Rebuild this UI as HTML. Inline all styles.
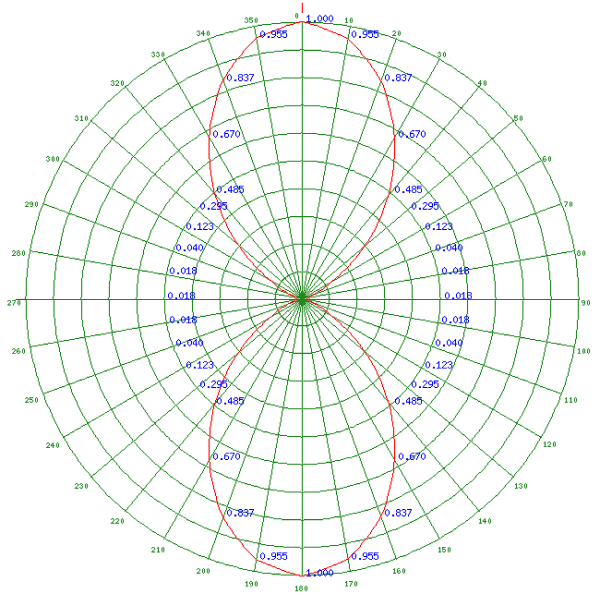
<!DOCTYPE html>
<html><head><meta charset="utf-8"><title>Polar plot</title>
<style>html,body{margin:0;padding:0;background:#fff;}body{width:600px;height:606px;overflow:hidden;font-family:"Liberation Sans",sans-serif;}svg{display:block}</style>
</head><body>
<svg width="600" height="606" viewBox="0 0 650 656" preserveAspectRatio="none">
<defs>
<path id="t0" d="M2 1h1v1h-1zM1 2h1v1h-1zM3 2h1v1h-1zM1 3h1v1h-1zM3 3h1v1h-1zM1 4h1v1h-1zM3 4h1v1h-1zM1 5h1v1h-1zM3 5h1v1h-1zM2 6h1v1h-1z"/>
<path id="t1" d="M2 1h1v1h-1zM1 2h2v1h-2zM2 3h1v1h-1zM2 4h1v1h-1zM2 5h1v1h-1zM1 6h3v1h-3z"/>
<path id="t2" d="M1 1h2v1h-2zM0 2h1v1h-1zM3 2h1v1h-1zM3 3h1v1h-1zM2 4h1v1h-1zM1 5h1v1h-1zM0 6h4v1h-4z"/>
<path id="t3" d="M1 1h2v1h-2zM0 2h1v1h-1zM3 2h1v1h-1zM2 3h1v1h-1zM3 4h1v1h-1zM0 5h1v1h-1zM3 5h1v1h-1zM1 6h2v1h-2z"/>
<path id="t4" d="M2 1h1v1h-1zM1 2h2v1h-2zM0 3h1v1h-1zM2 3h1v1h-1zM0 4h4v1h-4zM2 5h1v1h-1zM2 6h1v1h-1z"/>
<path id="t5" d="M0 1h4v1h-4zM0 2h1v1h-1zM0 3h3v1h-3zM3 4h1v1h-1zM0 5h1v1h-1zM3 5h1v1h-1zM1 6h2v1h-2z"/>
<path id="t6" d="M1 1h2v1h-2zM0 2h1v1h-1zM0 3h1v1h-1zM2 3h1v1h-1zM0 4h2v1h-2zM3 4h1v1h-1zM0 5h1v1h-1zM3 5h1v1h-1zM1 6h2v1h-2z"/>
<path id="t7" d="M0 1h4v1h-4zM3 2h1v1h-1zM2 3h1v1h-1zM2 4h1v1h-1zM1 5h1v1h-1zM1 6h1v1h-1z"/>
<path id="t8" d="M1 1h2v1h-2zM0 2h1v1h-1zM3 2h1v1h-1zM1 3h2v1h-2zM0 4h1v1h-1zM3 4h1v1h-1zM0 5h1v1h-1zM3 5h1v1h-1zM1 6h2v1h-2z"/>
<path id="t9" d="M1 1h2v1h-2zM0 2h1v1h-1zM3 2h1v1h-1zM0 3h1v1h-1zM2 3h2v1h-2zM1 4h1v1h-1zM3 4h1v1h-1zM3 5h1v1h-1zM1 6h2v1h-2z"/>
<path id="s0" d="M2 3h1v1h-1zM1 4h1v1h-1zM3 4h1v1h-1zM0 5h1v1h-1zM4 5h1v1h-1zM0 6h1v1h-1zM4 6h1v1h-1zM0 7h1v1h-1zM4 7h1v1h-1zM0 8h1v1h-1zM4 8h1v1h-1zM1 9h1v1h-1zM3 9h1v1h-1zM2 10h1v1h-1z"/>
<path id="s1" d="M2 3h1v1h-1zM1 4h2v1h-2zM0 5h1v1h-1zM2 5h1v1h-1zM2 6h1v1h-1zM2 7h1v1h-1zM2 8h1v1h-1zM2 9h1v1h-1zM0 10h5v1h-5z"/>
<path id="s2" d="M1 3h3v1h-3zM0 4h1v1h-1zM4 4h1v1h-1zM4 5h1v1h-1zM3 6h1v1h-1zM2 7h1v1h-1zM1 8h1v1h-1zM0 9h1v1h-1zM0 10h5v1h-5z"/>
<path id="s3" d="M1 3h3v1h-3zM0 4h1v1h-1zM4 4h1v1h-1zM4 5h1v1h-1zM2 6h2v1h-2zM4 7h1v1h-1zM4 8h1v1h-1zM0 9h1v1h-1zM4 9h1v1h-1zM1 10h3v1h-3z"/>
<path id="s4" d="M3 3h1v1h-1zM2 4h2v1h-2zM1 5h1v1h-1zM3 5h1v1h-1zM0 6h1v1h-1zM3 6h1v1h-1zM0 7h1v1h-1zM3 7h1v1h-1zM0 8h5v1h-5zM3 9h1v1h-1zM3 10h1v1h-1z"/>
<path id="s5" d="M0 3h5v1h-5zM0 4h1v1h-1zM0 5h4v1h-4zM0 6h1v1h-1zM4 6h1v1h-1zM4 7h1v1h-1zM4 8h1v1h-1zM0 9h1v1h-1zM4 9h1v1h-1zM1 10h3v1h-3z"/>
<path id="s6" d="M2 3h3v1h-3zM1 4h1v1h-1zM0 5h1v1h-1zM0 6h4v1h-4zM0 7h1v1h-1zM4 7h1v1h-1zM0 8h1v1h-1zM4 8h1v1h-1zM0 9h1v1h-1zM4 9h1v1h-1zM1 10h3v1h-3z"/>
<path id="s7" d="M0 3h5v1h-5zM4 4h1v1h-1zM3 5h1v1h-1zM3 6h1v1h-1zM2 7h1v1h-1zM2 8h1v1h-1zM1 9h1v1h-1zM1 10h1v1h-1z"/>
<path id="s8" d="M1 3h3v1h-3zM0 4h1v1h-1zM4 4h1v1h-1zM0 5h1v1h-1zM4 5h1v1h-1zM1 6h3v1h-3zM0 7h1v1h-1zM4 7h1v1h-1zM0 8h1v1h-1zM4 8h1v1h-1zM0 9h1v1h-1zM4 9h1v1h-1zM1 10h3v1h-3z"/>
<path id="s9" d="M1 3h3v1h-3zM0 4h1v1h-1zM4 4h1v1h-1zM0 5h1v1h-1zM4 5h1v1h-1zM0 6h1v1h-1zM4 6h1v1h-1zM1 7h4v1h-4zM4 8h1v1h-1zM3 9h1v1h-1zM0 10h3v1h-3z"/>
<path id="sd" d="M2 9h2v1h-2zM2 10h2v1h-2z"/>
</defs>
<rect width="650" height="656" fill="#fff"/>
<g fill="none" stroke="#1f8a1f" stroke-width="1.15">
<path transform="translate(0 .5)" d="M304 24h16M334 24h16M294 25h10M350 25h11M284 26h10M361 26h10M279 27h5M371 27h5M273 28h6M376 28h5M268 29h5M381 29h6M263 30h5M387 30h5M259 31h4M392 31h4M257 32h2M396 32h2M253 33h4M398 33h4M248 34h5M402 34h5M244 35h4M407 35h4M242 36h2M411 36h2M238 37h4M413 37h4M234 38h4M417 38h4M232 39h2M421 39h2M229 40h3M423 40h3M227 41h2M426 41h2M224 42h3M428 42h3M222 43h2M431 43h2M218 44h4M433 44h4M215 45h3M437 45h3M213 46h2M440 46h2M211 47h2M442 47h2M209 48h2M207 49h2M445 49h2M205 50h2M447 50h3M203 51h2M450 51h2M200 52h3M452 52h3M198 53h2M325 53h4M455 53h2M195 54h3M307 54h18M329 54h19M457 54h2M193 55h2M297 55h10M348 55h9M459 55h2M288 56h9M357 56h10M461 56h2M190 57h2M283 57h5M367 57h4M463 57h2M188 58h2M279 58h4M371 58h5M465 58h2M186 59h2M274 59h5M376 59h4M467 59h2M184 60h2M270 60h4M380 60h5M469 60h2M182 61h2M265 61h5M385 61h5M471 61h2M180 62h2M260 62h5M390 62h4M473 62h2M177 63h3M258 63h2M394 63h2M397 63h2M475 63h2M177 64h2M251 64h5M399 64h4M175 65h2M248 65h3M403 65h4M246 66h2M407 66h2M479 66h2M172 67h2M242 67h4M409 67h3M170 68h2M239 68h3M412 68h4M482 68h2M237 69h2M416 69h2M484 69h2M167 70h2M234 70h3M418 70h2M486 70h2M165 71h2M232 71h2M420 71h2M488 71h2M229 72h3M422 72h3M162 73h2M226 73h3M425 73h4M224 74h2M429 74h2M492 74h2M221 75h3M431 75h2M158 76h2M219 76h2M433 76h2M217 77h2M435 77h2M496 77h2M215 78h2M437 78h2M154 79h2M213 79h2M439 79h3M499 79h2M152 80h2M211 80h2M442 80h2M501 80h2M208 81h3M444 81h2M149 82h2M206 82h2M446 82h2M204 83h2M326 83h3M448 83h2M505 83h2M202 84h2M305 84h21M329 84h21M450 84h2M145 85h2M296 85h9M350 85h8M452 85h2M199 86h2M292 86h4M358 86h4M509 86h2M284 87h8M362 87h8M455 87h2M196 88h2M280 88h4M370 88h4M457 88h2M194 89h2M276 89h4M374 89h4M459 89h3M192 90h2M272 90h4M378 90h4M461 90h2M190 91h2M268 91h4M382 91h5M463 91h2M137 92h2M263 92h5M387 92h4M135 93h2M187 93h2M259 93h4M391 93h4M517 93h3M135 94h2M255 94h4M395 94h4M467 94h2M518 94h2M133 95h2M184 95h2M252 95h3M399 95h3M182 96h2M250 96h2M402 96h2M470 96h2M521 96h2M247 97h3M404 97h3M472 97h2M179 98h2M245 98h2M407 98h3M243 99h2M410 99h2M475 99h2M240 100h3M412 100h2M175 101h2M237 101h3M414 101h3M125 102h2M479 102h2M172 103h2M232 103h3M419 103h3M529 103h2M170 104h2M229 104h3M422 104h3M482 104h2M227 105h2M425 105h2M484 105h2M167 106h2M225 106h2M427 106h2M223 107h2M429 107h2M487 107h2M431 108h2M117 109h2M163 109h2M220 109h2M433 109h2M218 110h2M491 110h2M537 110h2M216 111h2M436 111h2M214 112h2M438 112h2M212 113h2M326 113h3M440 113h2M210 114h2M308 114h18M329 114h18M442 114h2M156 115h2M207 115h3M300 115h8M347 115h7M444 115h3M154 116h2M207 116h2M293 116h7M354 116h7M446 116h2M498 116h3M154 117h2M205 117h2M286 117h7M361 117h7M448 117h2M499 117h2M203 118h2M282 118h4M368 118h4M201 119h2M279 119h3M372 119h4M451 119h2M275 120h4M376 120h3M453 120h2M149 121h2M198 121h2M272 121h3M379 121h4M455 121h2M268 122h4M383 122h3M505 122h2M195 123h2M265 123h3M386 123h4M145 124h2M261 124h4M390 124h3M459 124h2M258 125h3M393 125h4M509 125h2M191 126h2M255 126h3M397 126h2M462 126h2M253 127h2M398 127h3M188 128h2M251 128h2M401 128h3M465 128h2M247 129h4M404 129h3M98 130h2M185 130h2M245 130h2M407 130h3M555 130h2M98 131h2M243 131h2M410 131h2M469 131h2M555 131h2M241 132h2M412 132h2M101 133h2M239 133h2M414 133h2M552 133h2M135 134h2M237 134h2M416 134h2M234 135h3M418 135h2M519 135h2M178 136h2M232 136h2M420 136h3M475 136h2M230 137h2M423 137h2M107 138h2M175 138h2M546 138h2M173 139h2M479 139h3M173 140h2M225 140h2M480 140h2M222 141h3M429 141h3M222 142h2M431 142h2M113 143h2M220 143h2M326 143h2M433 143h2M540 143h2M168 144h2M218 144h2M311 144h15M327 144h17M435 144h2M485 144h2M216 145h2M301 145h10M344 145h9M437 145h2M295 146h6M353 146h7M292 147h3M360 147h3M286 148h6M363 148h6M120 149h3M211 149h2M283 149h3M369 149h3M442 149h2M532 149h3M121 150h2M280 150h3M372 150h3M532 150h2M208 151h2M274 151h6M375 151h6M445 151h2M271 152h3M381 152h3M205 153h2M268 153h3M384 153h3M448 153h2M126 154h2M266 154h2M387 154h2M527 154h2M202 155h2M264 155h3M388 155h3M451 155h2M262 156h2M391 156h2M199 157h2M259 157h3M393 157h3M454 157h2M256 158h3M396 158h3M132 159h2M196 159h2M253 159h3M399 159h2M457 159h2M521 159h2M401 160h2M250 161h2M403 161h2M193 162h2M248 162h2M405 162h2M460 162h2M246 163h2M407 163h2M191 164h2M244 164h2M409 164h2M462 164h2M139 165h2M242 165h2M411 165h2M514 165h2M240 166h2M413 166h2M237 167h3M415 167h2M236 168h3M416 168h2M185 169h2M418 169h2M468 169h2M145 170h2M233 170h2M420 170h2M508 170h2M229 173h2M326 173h2M424 173h2M69 174h2M180 174h2M311 174h15M327 174h17M473 174h2M584 174h2M71 175h2M225 175h2M303 175h8M344 175h7M428 175h2M582 175h2M73 176h2M152 176h2M298 176h5M351 176h6M501 176h2M580 176h2M293 177h5M357 177h5M76 178h2M290 178h3M362 178h2M577 178h2M78 179h2M175 179h2M220 179h2M285 179h5M364 179h5M433 179h2M478 179h2M575 179h2M283 180h2M369 180h3M81 181h2M158 181h2M280 181h3M372 181h2M495 181h2M572 181h2M83 182h2M278 182h2M374 182h3M570 182h2M85 183h2M215 183h2M275 183h3M377 183h2M438 183h2M568 183h2M271 184h4M379 184h5M88 185h2M212 185h2M441 185h2M565 185h2M90 186h2M164 186h2M212 186h2M268 186h2M441 186h2M489 186h2M563 186h2M92 187h2M266 187h2M386 187h3M561 187h2M167 188h2M263 188h3M389 188h2M486 188h2M94 189h3M167 189h2M208 189h2M261 189h2M391 189h2M445 189h2M486 189h2M558 189h3M97 190h2M165 190h2M259 190h2M393 190h3M488 190h2M556 190h2M256 191h3M396 191h2M100 192h2M171 192h2M398 192h2M482 192h2M553 192h2M102 193h2M252 193h3M400 193h2M551 193h2M104 194h2M251 194h3M401 194h2M549 194h2M201 195h2M249 195h2M403 195h2M452 195h2M107 196h2M405 196h2M546 196h2M109 197h2M177 197h2M476 197h2M544 197h2M111 198h2M245 198h2M542 198h2M409 199h2M114 200h2M539 200h2M116 201h2M241 201h2M412 201h2M537 201h2M183 202h2M239 202h2M414 202h2M470 202h2M119 203h2M534 203h2M121 204h2M236 204h2M312 204h30M532 204h2M123 205h2M306 205h6M342 205h7M418 205h2M530 205h2M302 206h5M348 206h4M126 207h2M298 207h4M352 207h5M527 207h2M128 208h2M190 208h2M293 208h5M357 208h4M422 208h2M463 208h2M525 208h2M130 209h2M230 209h2M289 209h4M361 209h4M422 209h2M523 209h2M286 210h3M365 210h2M424 210h2M133 211h2M367 211h2M520 211h2M135 212h2M282 212h4M369 212h3M518 212h2M196 213h2M280 213h2M372 213h2M457 213h2M138 214h2M278 214h2M374 214h2M515 214h2M140 215h2M276 215h2M376 215h2M513 215h2M142 216h2M222 216h2M274 216h2M378 216h2M511 216h2M272 217h2M380 217h2M432 217h2M145 218h2M202 218h2M270 218h2M382 218h2M451 218h2M508 218h2M147 219h2M267 219h3M384 219h2M506 219h2M46 220h2M149 220h2M267 220h2M386 220h2M504 220h2M607 220h2M48 221h3M265 221h2M604 221h3M51 222h2M152 222h2M263 222h2M389 222h2M501 222h2M602 222h2M53 223h3M154 223h2M261 223h2M391 223h2M499 223h2M599 223h3M56 224h3M209 224h2M393 224h2M444 224h2M596 224h3M59 225h3M157 225h2M258 225h2M496 225h2M593 225h3M62 226h2M159 226h2M212 226h2M396 226h2M441 226h2M494 226h2M591 226h2M64 227h3M161 227h2M492 227h2M588 227h3M67 228h3M585 228h3M70 229h2M164 229h2M215 229h2M253 229h2M438 229h2M489 229h2M583 229h2M72 230h3M166 230h2M401 230h2M487 230h2M580 230h3M74 231h4M168 231h2M250 231h2M403 231h2M485 231h2M577 231h4M78 232h3M250 232h2M403 232h2M574 232h3M81 233h2M171 233h2M248 233h2M482 233h2M572 233h2M83 234h3M173 234h2M314 234h26M406 234h2M480 234h2M569 234h3M86 235h3M222 235h2M310 235h4M340 235h5M431 235h2M566 235h3M89 236h3M176 236h2M245 236h2M305 236h5M345 236h4M477 236h2M563 236h3M92 237h2M178 237h2M301 237h4M349 237h5M409 237h2M475 237h2M561 237h2M94 238h3M180 238h2M298 238h3M354 238h3M473 238h2M558 238h3M97 239h3M296 239h2M555 239h3M100 240h2M183 240h2M228 240h2M293 240h3M357 240h4M412 240h2M425 240h2M470 240h2M553 240h2M102 241h3M185 241h2M291 241h2M361 241h3M468 241h2M550 241h3M105 242h3M187 242h2M239 242h2M289 242h2M466 242h2M547 242h3M108 243h3M286 243h3M365 243h3M415 243h2M544 243h3M111 244h2M190 244h2M368 244h2M463 244h2M542 244h2M113 245h3M192 245h2M234 245h2M282 245h3M419 245h2M461 245h2M539 245h3M116 246h3M281 246h3M371 246h3M536 246h3M119 247h3M195 247h2M458 247h2M533 247h3M122 248h2M197 248h2M278 248h2M456 248h2M531 248h2M124 249h3M199 249h2M376 249h2M454 249h2M528 249h3M127 250h3M525 250h3M130 251h2M202 251h2M241 251h2M274 251h2M412 251h2M451 251h2M523 251h2M132 252h3M204 252h2M380 252h2M449 252h2M520 252h3M135 253h3M517 253h3M138 254h3M207 254h2M446 254h2M514 254h3M141 255h2M209 255h2M444 255h2M512 255h2M143 256h3M211 256h2M247 256h2M268 256h2M406 256h2M442 256h2M509 256h3M146 257h3M386 257h2M506 257h3M149 258h3M214 258h2M439 258h2M503 258h3M152 259h2M216 259h2M437 259h2M501 259h2M154 260h3M218 260h2M435 260h2M498 260h3M157 261h3M253 261h2M400 261h2M495 261h3M160 262h2M221 262h2M432 262h2M493 262h2M162 263h3M223 263h2M430 263h2M490 263h3M165 264h3M317 264h21M487 264h3M168 265h3M226 265h2M313 265h5M337 265h5M427 265h2M484 265h3M171 266h2M228 266h2M309 266h4M342 266h4M425 266h2M482 266h2M173 267h3M230 267h2M307 267h2M346 267h2M423 267h2M479 267h3M176 268h3M304 268h4M347 268h4M476 268h3M179 269h3M233 269h2M302 269h2M351 269h2M420 269h2M473 269h3M182 270h2M235 270h2M300 270h2M353 270h2M418 270h2M471 270h2M32 271h3M184 271h4M237 271h2M297 271h3M355 271h3M416 271h2M467 271h4M620 271h3M35 272h6M187 272h3M266 272h2M297 272h2M356 272h2M387 272h2M465 272h3M614 272h6M41 273h6M190 273h2M240 273h2M295 273h2M358 273h2M413 273h2M463 273h2M608 273h6M47 274h5M192 274h3M242 274h2M293 274h2M360 274h2M411 274h2M460 274h3M603 274h5M52 275h6M195 275h3M457 275h3M597 275h6M58 276h6M198 276h3M245 276h2M408 276h2M454 276h3M591 276h6M64 277h5M201 277h2M247 277h2M272 277h2M289 277h2M364 277h2M381 277h2M406 277h2M452 277h2M586 277h5M69 278h6M203 278h3M249 278h2M288 278h2M365 278h2M404 278h2M449 278h3M580 278h6M75 279h6M206 279h3M446 279h3M574 279h6M81 280h5M209 280h3M252 280h2M286 280h2M367 280h2M401 280h2M443 280h3M569 280h5M86 281h6M212 281h2M254 281h2M399 281h2M441 281h2M563 281h6M91 282h7M214 282h3M256 282h2M397 282h2M438 282h3M557 282h7M98 283h5M217 283h3M279 283h2M283 283h2M370 283h2M374 283h2M435 283h3M552 283h5M103 284h6M220 284h2M259 284h2M281 284h2M372 284h2M394 284h2M433 284h2M546 284h6M109 285h6M222 285h3M261 285h2M392 285h2M430 285h3M540 285h6M115 286h5M225 286h3M427 286h3M535 286h5M120 287h6M228 287h3M264 287h2M389 287h2M424 287h3M529 287h6M126 288h6M231 288h2M266 288h2M285 288h2M368 288h2M387 288h2M422 288h2M523 288h6M132 289h5M233 289h3M268 289h2M385 289h2M419 289h3M518 289h5M137 290h6M236 290h3M416 290h3M512 290h6M143 291h6M239 291h3M271 291h2M382 291h2M413 291h3M506 291h6M149 292h5M242 292h2M273 292h2M380 292h2M411 292h2M501 292h5M154 293h6M243 293h4M275 293h2M378 293h2M408 293h4M495 293h6M160 294h6M247 294h3M292 294h2M320 294h15M361 294h2M405 294h3M489 294h6M166 295h5M250 295h2M278 295h2M317 295h4M334 295h4M375 295h2M403 295h2M484 295h5M171 296h6M252 296h3M280 296h2M315 296h3M337 296h3M373 296h2M400 296h3M478 296h6M177 297h6M255 297h3M312 297h3M340 297h3M397 297h3M472 297h6M183 298h6M258 298h3M283 298h2M311 298h3M341 298h3M370 298h2M394 298h3M466 298h6M189 299h5M261 299h2M285 299h2M298 299h2M310 299h2M343 299h2M355 299h2M368 299h2M392 299h2M461 299h5M194 300h6M263 300h3M308 300h2M345 300h2M366 300h2M389 300h3M455 300h6M200 301h6M266 301h3M307 301h3M345 301h3M386 301h3M449 301h6M206 302h5M269 302h4M306 302h2M347 302h2M363 302h2M382 302h4M444 302h5M211 303h6M271 303h3M305 303h2M348 303h2M381 303h3M438 303h6M217 304h6M274 304h3M304 304h2M349 304h2M378 304h3M432 304h6M223 305h5M277 305h3M375 305h3M427 305h5M228 306h6M280 306h2M297 306h2M373 306h2M421 306h6M234 307h6M282 307h3M299 307h2M302 307h2M351 307h2M354 307h2M370 307h3M415 307h6M239 308h6M285 308h3M301 308h2M352 308h2M367 308h3M410 308h6M245 309h6M288 309h3M301 309h3M351 309h3M364 309h3M404 309h6M251 310h6M291 310h2M304 310h2M311 310h2M342 310h2M349 310h2M362 310h2M398 310h6M257 311h5M293 311h3M306 311h2M347 311h2M359 311h3M393 311h5M262 312h6M296 312h3M356 312h3M387 312h6M268 313h6M299 313h3M309 313h2M344 313h2M353 313h3M381 313h6M274 314h5M302 314h2M311 314h2M324 314h2M329 314h2M342 314h2M351 314h2M376 314h5M279 315h6M304 315h3M313 315h2M317 315h2M326 315h3M336 315h2M340 315h2M348 315h3M370 315h6M285 316h6M298 316h2M307 316h3M323 316h2M326 316h3M330 316h2M345 316h3M355 316h2M364 316h6M291 317h5M316 317h2M324 317h7M337 317h2M343 317h2M359 317h5M296 318h6M318 318h2M323 318h9M335 318h2M341 318h2M353 318h6M302 319h6M324 319h7M347 319h6M308 320h5M319 320h16M342 320h5M313 321h5M321 321h13M336 321h6M322 322h10M334 322h2M267 323h2M297 323h2M325 323h5M356 323h2M386 323h2M322 324h10M334 324h2M313 325h5M321 325h13M336 325h6M308 326h5M319 326h16M342 326h5M302 327h6M324 327h7M347 327h6M296 328h6M318 328h2M323 328h9M335 328h2M341 328h2M353 328h6M291 329h5M316 329h2M324 329h7M337 329h2M343 329h2M359 329h5M285 330h6M298 330h2M307 330h3M323 330h2M326 330h3M330 330h2M345 330h3M355 330h2M364 330h6M279 331h6M304 331h3M313 331h2M317 331h2M326 331h3M336 331h2M340 331h2M348 331h3M370 331h6M274 332h5M302 332h2M311 332h2M324 332h2M329 332h2M342 332h2M351 332h2M376 332h5M268 333h6M299 333h3M309 333h2M344 333h2M353 333h3M381 333h6M262 334h6M296 334h3M356 334h3M387 334h6M257 335h5M293 335h3M306 335h2M347 335h2M359 335h3M393 335h5M251 336h6M291 336h2M304 336h2M311 336h2M342 336h2M349 336h2M362 336h2M398 336h6M245 337h6M288 337h3M301 337h3M351 337h3M364 337h3M404 337h6M239 338h6M285 338h3M301 338h2M352 338h2M367 338h3M410 338h6M234 339h6M282 339h3M299 339h2M302 339h2M351 339h2M354 339h2M370 339h3M415 339h6M228 340h6M280 340h2M297 340h2M373 340h2M421 340h6M223 341h5M277 341h3M375 341h3M427 341h5M217 342h6M274 342h3M304 342h2M349 342h2M378 342h3M432 342h6M211 343h6M271 343h3M305 343h2M348 343h2M381 343h3M438 343h6M206 344h5M269 344h4M306 344h2M347 344h2M363 344h2M382 344h4M444 344h5M200 345h6M266 345h3M307 345h3M345 345h3M386 345h3M449 345h6M194 346h6M263 346h3M308 346h2M345 346h2M366 346h2M389 346h3M455 346h6M189 347h5M261 347h2M285 347h2M298 347h2M310 347h2M343 347h2M355 347h2M368 347h2M392 347h2M461 347h5M183 348h6M258 348h3M283 348h2M311 348h3M341 348h3M370 348h2M394 348h3M466 348h6M177 349h6M255 349h3M312 349h3M340 349h3M397 349h3M472 349h6M171 350h6M252 350h3M280 350h2M315 350h3M337 350h3M373 350h2M400 350h3M478 350h6M166 351h5M250 351h2M278 351h2M317 351h4M334 351h4M375 351h2M403 351h2M484 351h5M160 352h6M247 352h3M275 352h3M292 352h2M320 352h15M361 352h2M377 352h3M405 352h3M489 352h6M154 353h6M243 353h4M275 353h2M378 353h2M408 353h4M495 353h6M149 354h5M242 354h3M273 354h2M380 354h2M410 354h3M501 354h5M143 355h6M239 355h3M271 355h2M382 355h2M413 355h3M506 355h6M137 356h6M236 356h3M416 356h3M512 356h6M132 357h5M233 357h3M268 357h2M385 357h2M419 357h3M518 357h5M126 358h6M231 358h2M266 358h2M285 358h2M368 358h2M387 358h2M422 358h2M523 358h6M120 359h6M228 359h3M264 359h2M389 359h2M424 359h3M529 359h6M115 360h5M225 360h3M427 360h3M535 360h5M109 361h6M222 361h3M261 361h2M392 361h2M430 361h3M540 361h6M103 362h6M220 362h2M259 362h2M281 362h2M372 362h2M394 362h2M433 362h2M546 362h6M98 363h5M217 363h3M279 363h2M283 363h2M370 363h2M374 363h2M435 363h3M552 363h5M91 364h7M214 364h3M256 364h2M397 364h2M438 364h3M557 364h7M86 365h6M212 365h2M254 365h2M399 365h2M441 365h2M563 365h6M81 366h5M209 366h3M252 366h2M286 366h2M367 366h2M401 366h2M443 366h3M569 366h5M75 367h6M206 367h3M250 367h2M403 367h2M446 367h3M574 367h6M69 368h6M203 368h3M249 368h2M288 368h2M365 368h2M404 368h2M449 368h3M580 368h6M64 369h5M201 369h2M247 369h2M272 369h2M289 369h2M364 369h2M381 369h2M406 369h2M452 369h2M586 369h5M58 370h6M198 370h3M245 370h2M408 370h2M454 370h3M591 370h6M52 371h6M195 371h3M457 371h3M597 371h6M47 372h5M192 372h3M242 372h2M293 372h2M360 372h2M411 372h2M460 372h3M603 372h5M41 373h6M190 373h2M240 373h2M295 373h2M358 373h2M413 373h2M463 373h2M608 373h6M35 374h6M187 374h3M266 374h2M297 374h2M356 374h2M387 374h2M465 374h3M614 374h6M32 375h3M184 375h3M237 375h2M297 375h3M355 375h3M416 375h2M468 375h3M620 375h3M182 376h2M235 376h2M300 376h2M353 376h2M418 376h2M471 376h2M179 377h3M233 377h2M302 377h2M351 377h2M420 377h2M473 377h3M176 378h3M304 378h4M347 378h4M476 378h3M173 379h3M230 379h2M307 379h2M346 379h2M423 379h2M479 379h3M171 380h2M228 380h2M309 380h4M342 380h4M425 380h2M482 380h2M168 381h3M226 381h2M313 381h5M337 381h5M427 381h2M484 381h3M165 382h3M224 382h2M317 382h21M429 382h2M487 382h3M162 383h3M223 383h3M429 383h3M490 383h3M160 384h2M221 384h2M432 384h2M493 384h2M157 385h3M253 385h2M400 385h2M495 385h3M154 386h3M218 386h2M435 386h2M498 386h3M152 387h2M216 387h2M437 387h2M501 387h2M149 388h3M214 388h2M439 388h2M503 388h3M146 389h3M386 389h2M506 389h3M143 390h3M211 390h2M247 390h2M268 390h2M406 390h2M442 390h2M509 390h3M141 391h2M209 391h2M444 391h2M512 391h2M138 392h3M207 392h2M446 392h2M514 392h3M135 393h3M517 393h3M132 394h3M204 394h2M380 394h2M449 394h2M520 394h3M130 395h2M202 395h2M241 395h2M274 395h2M412 395h2M451 395h2M523 395h2M127 396h3M525 396h3M124 397h3M198 397h3M376 397h2M454 397h3M528 397h3M122 398h2M197 398h2M278 398h2M456 398h2M531 398h2M119 399h3M195 399h2M458 399h2M533 399h3M116 400h3M281 400h3M371 400h3M536 400h3M113 401h3M192 401h2M234 401h2M419 401h2M461 401h2M539 401h3M111 402h2M190 402h2M368 402h2M463 402h2M542 402h2M108 403h3M286 403h3M365 403h3M415 403h2M544 403h3M105 404h3M187 404h2M239 404h2M289 404h2M466 404h2M547 404h3M102 405h3M185 405h2M291 405h2M361 405h3M468 405h2M550 405h3M100 406h2M183 406h2M228 406h2M293 406h3M357 406h4M412 406h2M425 406h2M470 406h2M553 406h2M97 407h3M296 407h2M555 407h3M94 408h3M180 408h2M298 408h3M354 408h3M473 408h2M558 408h3M92 409h2M178 409h2M301 409h4M349 409h5M409 409h2M475 409h2M561 409h2M89 410h3M176 410h2M245 410h2M305 410h5M345 410h4M477 410h2M563 410h3M86 411h3M222 411h2M310 411h4M340 411h5M431 411h2M566 411h3M83 412h3M172 412h3M314 412h26M406 412h2M480 412h3M569 412h3M81 413h2M171 413h2M248 413h2M482 413h2M572 413h2M78 414h3M250 414h2M403 414h2M574 414h3M74 415h4M168 415h2M250 415h2M403 415h2M485 415h2M577 415h4M72 416h4M166 416h2M401 416h2M487 416h2M579 416h4M70 417h2M164 417h2M215 417h2M253 417h2M438 417h2M489 417h2M583 417h2M67 418h3M585 418h3M64 419h3M161 419h2M492 419h2M588 419h3M62 420h2M159 420h2M396 420h2M494 420h2M591 420h2M59 421h3M157 421h2M258 421h2M496 421h2M593 421h3M56 422h3M209 422h2M393 422h2M444 422h2M596 422h3M53 423h3M154 423h2M261 423h2M391 423h2M499 423h2M599 423h3M51 424h2M152 424h2M263 424h2M389 424h2M501 424h2M602 424h2M48 425h3M265 425h2M604 425h3M46 426h2M149 426h2M267 426h2M386 426h2M504 426h2M607 426h2M146 427h3M384 427h2M506 427h3M145 428h3M202 428h2M270 428h2M382 428h2M451 428h2M507 428h3M272 429h2M380 429h2M432 429h2M142 430h2M222 430h2M274 430h2M378 430h2M511 430h2M140 431h2M276 431h2M376 431h2M513 431h2M138 432h2M278 432h2M374 432h2M515 432h2M196 433h2M280 433h2M372 433h2M457 433h2M135 434h2M282 434h4M369 434h3M518 434h2M133 435h2M367 435h2M520 435h2M286 436h3M365 436h2M424 436h2M130 437h2M230 437h2M289 437h4M361 437h4M422 437h2M523 437h2M128 438h2M190 438h2M293 438h5M357 438h4M422 438h2M463 438h2M525 438h2M126 439h2M298 439h4M352 439h5M527 439h2M302 440h5M348 440h4M123 441h2M306 441h6M342 441h7M418 441h2M530 441h2M120 442h3M236 442h2M312 442h30M532 442h3M119 443h3M533 443h3M183 444h2M239 444h2M414 444h2M470 444h2M116 445h2M241 445h2M412 445h2M537 445h2M114 446h2M539 446h2M409 447h2M111 448h2M245 448h2M542 448h2M109 449h2M177 449h2M476 449h2M544 449h2M107 450h2M405 450h2M546 450h2M201 451h2M249 451h3M403 451h2M452 451h2M104 452h2M252 452h2M401 452h2M549 452h2M102 453h2M400 453h3M551 453h2M100 454h2M171 454h2M398 454h2M482 454h2M553 454h2M256 455h3M396 455h2M97 456h2M165 456h2M259 456h2M393 456h3M488 456h2M556 456h2M94 457h3M167 457h2M208 457h2M261 457h2M391 457h2M445 457h2M486 457h2M558 457h3M94 458h2M167 458h2M263 458h3M389 458h2M486 458h2M559 458h2M92 459h2M266 459h2M386 459h3M561 459h2M90 460h2M164 460h2M212 460h2M268 460h2M441 460h2M489 460h2M563 460h2M88 461h2M212 461h2M441 461h2M565 461h2M271 462h4M379 462h5M85 463h2M215 463h2M275 463h3M377 463h2M438 463h2M568 463h2M83 464h2M278 464h2M374 464h3M570 464h2M81 465h2M158 465h2M280 465h3M372 465h2M495 465h2M572 465h2M283 466h2M369 466h3M78 467h2M175 467h2M220 467h2M285 467h5M364 467h5M433 467h2M478 467h2M575 467h2M76 468h2M290 468h3M362 468h2M577 468h2M293 469h5M357 469h5M73 470h2M152 470h2M298 470h5M351 470h6M501 470h2M580 470h2M71 471h2M225 471h2M303 471h8M344 471h7M428 471h2M582 471h2M68 472h3M180 472h2M311 472h15M327 472h17M473 472h2M584 472h3M68 473h2M229 473h2M326 473h2M424 473h2M585 473h2M145 476h2M233 476h2M420 476h2M508 476h2M185 477h2M235 477h2M418 477h2M468 477h2M237 478h2M416 478h2M415 479h2M240 480h2M413 480h2M139 481h2M242 481h2M411 481h2M514 481h2M191 482h2M244 482h2M409 482h2M462 482h2M246 483h2M407 483h2M193 484h2M248 484h2M405 484h2M460 484h2M250 485h2M403 485h2M401 486h2M132 487h2M196 487h2M253 487h3M399 487h2M457 487h2M521 487h2M256 488h3M396 488h3M199 489h2M259 489h3M393 489h3M454 489h2M262 490h2M391 490h2M202 491h2M264 491h3M388 491h3M451 491h2M126 492h2M266 492h2M387 492h2M527 492h2M205 493h2M268 493h3M384 493h3M448 493h2M271 494h3M381 494h3M208 495h2M274 495h6M375 495h6M445 495h2M121 496h2M280 496h3M372 496h3M532 496h2M120 497h3M211 497h2M283 497h3M369 497h3M442 497h2M532 497h3M286 498h6M363 498h6M292 499h3M360 499h3M295 500h6M353 500h7M216 501h2M301 501h10M344 501h9M437 501h2M168 502h2M218 502h2M311 502h15M327 502h17M435 502h2M485 502h2M113 503h2M220 503h2M326 503h2M433 503h2M540 503h2M222 504h2M431 504h2M224 505h2M429 505h3M173 506h2M480 506h2M173 507h2M479 507h3M107 508h2M175 508h2M546 508h2M230 509h2M423 509h2M178 510h2M232 510h2M420 510h3M475 510h2M234 511h3M418 511h2M519 511h2M135 512h2M237 512h2M416 512h2M101 513h2M239 513h2M414 513h2M552 513h2M241 514h2M412 514h2M98 515h2M243 515h2M410 515h2M469 515h2M555 515h2M98 516h2M185 516h2M245 516h2M407 516h3M555 516h2M247 517h4M404 517h3M188 518h2M251 518h2M401 518h3M465 518h2M253 519h2M398 519h3M191 520h2M255 520h3M397 520h2M462 520h2M258 521h3M393 521h4M509 521h2M145 522h2M261 522h4M390 522h3M459 522h2M195 523h2M265 523h3M386 523h4M268 524h4M383 524h3M505 524h2M149 525h2M198 525h2M272 525h3M379 525h4M455 525h2M275 526h4M376 526h3M453 526h2M201 527h2M279 527h3M372 527h4M451 527h2M203 528h2M282 528h4M368 528h4M154 529h2M205 529h2M286 529h7M361 529h7M448 529h2M499 529h2M154 530h2M207 530h2M293 530h7M354 530h7M446 530h2M498 530h3M156 531h2M209 531h2M300 531h8M347 531h7M444 531h3M308 532h18M329 532h18M442 532h2M212 533h2M326 533h3M440 533h2M214 534h2M438 534h2M216 535h2M436 535h2M218 536h2M491 536h2M537 536h2M117 537h2M163 537h2M220 537h2M433 537h2M431 538h2M223 539h2M429 539h2M487 539h2M167 540h2M225 540h2M427 540h2M227 541h2M425 541h2M484 541h2M170 542h2M229 542h3M422 542h3M482 542h2M172 543h2M232 543h3M419 543h3M529 543h2M125 544h2M479 544h2M175 545h2M237 545h3M414 545h3M240 546h3M412 546h2M243 547h2M410 547h2M475 547h2M179 548h2M245 548h2M407 548h3M247 549h3M404 549h3M472 549h2M182 550h2M250 550h2M402 550h2M470 550h2M521 550h2M133 551h2M184 551h2M252 551h3M399 551h3M135 552h2M255 552h4M395 552h4M467 552h2M518 552h2M135 553h2M187 553h2M259 553h4M391 553h4M517 553h3M137 554h2M263 554h5M387 554h4M190 555h2M268 555h4M382 555h5M463 555h2M192 556h2M272 556h4M378 556h4M461 556h2M194 557h2M276 557h4M374 557h4M459 557h3M196 558h2M280 558h4M370 558h4M457 558h2M284 559h8M362 559h8M455 559h2M199 560h2M292 560h4M358 560h4M509 560h2M145 561h2M296 561h9M350 561h8M452 561h2M202 562h2M305 562h21M329 562h21M450 562h2M204 563h2M326 563h3M448 563h2M505 563h2M149 564h2M206 564h2M446 564h2M208 565h3M444 565h2M152 566h2M211 566h2M442 566h2M501 566h2M154 567h2M213 567h2M439 567h3M499 567h2M215 568h2M437 568h2M217 569h2M435 569h2M496 569h2M158 570h2M219 570h2M433 570h2M221 571h3M431 571h2M224 572h2M429 572h2M492 572h2M162 573h2M226 573h3M425 573h4M229 574h3M422 574h3M165 575h2M232 575h2M420 575h2M488 575h2M167 576h2M234 576h3M418 576h2M486 576h2M237 577h2M416 577h2M484 577h2M170 578h2M239 578h3M412 578h4M482 578h2M172 579h2M242 579h4M409 579h3M174 580h2M246 580h2M407 580h2M479 580h2M176 581h3M248 581h3M403 581h4M251 582h5M399 582h4M258 583h2M394 583h2M397 583h2M475 583h2M180 584h2M260 584h5M390 584h4M473 584h2M182 585h2M265 585h5M385 585h5M471 585h2M184 586h2M270 586h4M380 586h5M469 586h2M186 587h2M274 587h5M376 587h4M467 587h2M188 588h2M279 588h4M371 588h5M465 588h2M190 589h2M283 589h5M367 589h4M463 589h2M288 590h9M357 590h10M461 590h2M193 591h2M297 591h10M348 591h9M459 591h2M195 592h3M307 592h18M329 592h19M457 592h2M198 593h2M325 593h4M455 593h2M200 594h3M452 594h3M203 595h2M450 595h2M205 596h2M447 596h3M207 597h2M445 597h2M209 598h2M211 599h2M442 599h2M213 600h2M440 600h2M215 601h3M437 601h3M218 602h4M433 602h4M222 603h2M431 603h2M224 604h3M428 604h3M227 605h2M426 605h2M229 606h3M423 606h3M232 607h2M421 607h2M234 608h4M417 608h4M238 609h4M413 609h4M242 610h2M411 610h2M244 611h4M407 611h4M248 612h5M402 612h5M253 613h4M398 613h4M257 614h2M396 614h2M259 615h4M392 615h4M263 616h5M387 616h5M268 617h5M381 617h6M273 618h6M376 618h5M279 619h5M371 619h5M284 620h10M361 620h10M294 621h10M350 621h11M304 622h16M334 622h16"/>
<path transform="translate(.5 0)" d="M27 321v4M28 300v21M28 325v21M29 290v10M29 346v11M30 280v10M30 357v10M31 275v5M31 367v5M32 269v2M32 272v3M32 372v3M32 376v1M33 264v5M33 377v6M34 259v5M34 383v5M35 255v4M35 388v4M36 253v2M36 392v2M37 249v4M37 394v4M38 244v5M38 398v5M39 240v4M39 403v4M40 238v2M40 407v2M41 234v4M41 409v4M42 230v4M42 413v4M43 228v2M43 417v2M44 225v3M44 419v3M45 223v2M45 422v2M46 221v2M46 424v2M47 218v2M47 427v2M48 214v4M48 429v4M49 211v3M49 433v3M50 209v2M50 436v2M51 207v2M51 438v2M52 205v2M52 440v1M53 203v2M53 441v2M54 201v2M54 443v3M55 199v2M55 446v2M56 196v3M56 448v3M57 194v2M57 321v4M57 451v2M58 191v3M58 303v18M58 325v19M58 453v2M59 189v2M59 293v10M59 344v9M59 455v2M60 188v1M60 284v9M60 353v10M60 457v2M61 186v2M61 279v5M61 363v4M61 459v2M62 184v2M62 275v1M62 277v2M62 367v3M62 371v1M62 461v2M63 182v2M63 270v5M63 372v4M63 463v2M64 180v2M64 266v4M64 376v5M64 465v2M65 178v2M65 261v5M65 381v5M65 467v2M66 176v2M66 256v5M66 386v4M66 469v1M67 174v2M67 252v4M67 390v5M67 470v2M68 173v1M68 247v5M68 395v4M69 171v2M69 244v3M69 399v4M69 474v1M70 170v1M70 242v2M70 403v2M70 475v2M71 168v2M71 238v4M71 405v3M71 477v1M72 166v2M72 235v3M72 408v4M72 478v2M73 165v1M73 233v2M73 412v2M73 480v2M74 163v2M74 232v1M74 414v1M74 482v2M75 161v2M75 177v1M75 228v2M75 417v1M75 469v1M75 484v2M76 160v1M76 225v3M76 418v3M76 486v1M77 158v2M77 222v3M77 421v4M77 487v1M78 157v1M78 220v2M78 425v2M78 488v2M79 156v1M79 217v3M79 427v2M79 490v1M80 154v2M80 180v1M80 215v2M80 429v2M80 466v1M80 491v1M81 153v1M81 213v2M81 431v2M81 492v2M82 152v1M82 211v2M82 433v2M82 494v1M83 150v2M83 209v2M83 435v3M83 495v2M84 148v2M84 207v2M84 438v2M84 497v2M85 147v1M85 204v3M85 440v2M85 499v1M86 145v2M86 202v2M86 442v2M86 500v1M87 144v1M87 184v1M87 200v2M87 322v3M87 444v2M87 462v1M87 501v2M88 143v1M88 198v2M88 301v21M88 325v21M88 446v2M88 503v1M89 141v2M89 197v1M89 292v9M89 346v8M89 448v2M89 504v1M90 140v1M90 195v2M90 288v4M90 354v4M90 450v1M90 505v2M91 139v1M91 194v1M91 280v1M91 283v5M91 358v6M91 451v2M91 507v1M92 138v1M92 192v2M92 276v4M92 366v4M92 453v1M92 508v1M93 137v1M93 190v2M93 272v4M93 370v4M93 454v2M93 509v1M94 136v1M94 188v1M94 268v4M94 374v4M94 456v1M94 510v1M95 135v1M95 186v2M95 264v4M95 378v5M95 459v1M95 511v1M96 133v2M96 185v1M96 259v5M96 383v4M96 460v2M96 512v1M97 132v1M97 183v2M97 255v4M97 387v4M97 462v1M97 513v2M98 182v1M98 251v4M98 391v4M98 463v2M99 129v1M99 180v2M99 191v1M99 248v3M99 395v3M99 455v1M99 465v1M100 128v1M100 132v1M100 178v2M100 246v2M100 398v2M100 466v2M100 514v1M100 517v2M101 127v1M101 177v1M101 243v3M101 400v3M101 468v2M101 519v1M102 126v1M102 175v2M102 242v1M102 403v2M102 470v1M102 520v1M103 125v1M103 134v1M103 174v1M103 239v2M103 406v2M103 471v2M103 512v1M103 521v1M104 124v1M104 135v1M104 173v1M104 236v3M104 408v2M104 473v1M104 511v1M104 522v1M105 123v1M105 136v1M105 171v2M105 233v3M105 410v3M105 474v1M105 510v1M105 523v1M106 121v2M106 137v1M106 170v1M106 195v1M106 231v2M106 413v2M106 451v1M106 475v2M106 509v1M106 524v1M107 120v1M107 168v2M107 228v3M107 415v3M107 477v1M107 525v2M108 119v1M108 166v2M108 225v3M108 418v3M108 478v2M108 527v1M109 118v1M109 139v1M109 165v1M109 223v2M109 421v2M109 480v2M109 507v1M109 528v1M110 117v1M110 140v1M110 163v2M110 221v2M110 423v2M110 482v1M110 506v1M110 529v1M111 116v1M111 141v1M111 162v1M111 219v2M111 425v2M111 483v2M111 505v1M111 530v1M112 115v1M112 142v1M112 161v1M112 218v1M112 427v2M112 485v1M112 504v1M112 531v1M113 113v2M113 159v2M113 199v1M113 216v2M113 429v2M113 447v1M113 486v1M113 532v1M114 112v1M114 158v1M114 214v2M114 431v1M114 487v2M114 533v2M115 111v1M115 144v1M115 157v1M115 212v2M115 432v2M115 489v1M115 502v1M115 535v1M116 110v1M116 145v1M116 156v1M116 210v2M116 434v2M116 490v1M116 501v1M116 536v1M117 146v1M117 155v1M117 208v2M117 322v3M117 436v2M117 491v1M117 500v1M118 147v1M118 154v1M118 202v1M118 206v2M118 304v18M118 325v18M118 438v2M118 444v1M118 492v1M118 499v1M119 108v1M119 148v1M119 152v2M119 204v2M119 296v8M119 343v7M119 440v2M119 493v1M119 498v1M119 538v1M120 107v1M120 151v1M120 289v7M120 350v7M120 494v2M120 539v1M121 106v1M121 201v2M121 282v5M121 288v1M121 357v2M121 360v4M121 444v1M121 540v1M122 105v1M122 199v2M122 278v4M122 364v4M122 445v2M122 541v1M123 104v1M123 148v1M123 151v1M123 197v2M123 275v3M123 368v4M123 447v2M123 495v1M123 498v1M123 542v1M124 103v1M124 147v1M124 152v1M124 196v1M124 271v4M124 372v3M124 449v2M124 494v1M124 499v1M124 543v1M125 145v2M125 153v1M125 194v2M125 206v1M125 268v3M125 375v4M125 440v1M125 451v2M125 493v1M125 500v1M126 144v1M126 193v1M126 264v4M126 379v3M126 453v1M126 501v2M127 101v1M127 143v1M127 191v2M127 261v3M127 382v4M127 454v1M127 503v1M127 545v1M128 100v1M128 141v2M128 155v1M128 190v1M128 257v4M128 386v3M128 455v2M128 491v1M128 504v1M128 546v1M129 99v1M129 140v1M129 156v1M129 189v1M129 254v3M129 389v4M129 457v1M129 490v1M129 505v2M129 547v1M130 98v1M130 139v1M130 157v1M130 187v2M130 252v2M130 393v2M130 458v2M130 489v1M130 507v1M130 548v1M131 97v1M131 138v1M131 158v1M131 186v1M131 249v2M131 396v1M131 460v1M131 488v1M131 508v1M131 549v1M132 96v1M132 137v1M132 184v2M132 210v1M132 247v2M132 397v3M132 436v1M132 461v2M132 509v1M132 550v1M133 136v1M133 183v1M133 243v4M133 400v3M133 463v1M133 510v1M134 135v1M134 160v1M134 181v2M134 241v2M134 403v3M134 464v1M134 486v1M134 511v1M135 161v1M135 180v1M135 239v2M135 406v2M135 465v2M135 485v1M136 162v1M136 179v1M136 237v2M136 408v2M136 467v1M136 484v1M137 95v1M137 133v1M137 163v1M137 178v1M137 213v1M137 235v2M137 410v2M137 433v1M137 468v1M137 483v1M137 513v1M137 551v1M138 96v2M138 131v2M138 164v1M138 177v1M138 233v2M138 412v2M138 469v1M138 482v1M138 514v1M138 549v2M139 91v1M139 98v1M139 130v1M139 176v1M139 230v3M139 414v2M139 470v1M139 515v2M139 548v1M139 555v1M140 90v1M140 99v1M140 129v1M140 174v2M140 228v2M140 416v3M140 471v2M140 517v1M140 547v1M140 556v1M141 89v1M141 100v1M141 128v1M141 166v1M141 173v1M141 226v2M141 419v2M141 473v1M141 480v1M141 518v1M141 546v1M141 557v1M142 88v1M142 101v1M142 127v1M142 167v1M142 171v2M142 225v1M142 421v1M142 474v1M142 479v1M142 519v1M142 545v1M142 558v1M143 87v1M143 102v2M143 126v1M143 168v1M143 170v1M143 223v2M143 422v2M143 475v2M143 478v1M143 520v1M143 543v2M143 559v1M144 86v1M144 104v1M144 125v1M144 169v1M144 217v1M144 221v2M144 424v1M144 429v1M144 477v1M144 521v1M144 542v1M144 560v1M145 105v1M145 168v1M145 219v2M145 425v2M145 478v1M145 541v1M146 106v1M146 167v1M146 479v1M146 540v1M147 84v1M147 107v1M147 123v1M147 166v1M147 171v1M147 216v2M147 322v2M147 429v1M147 475v1M147 480v1M147 523v1M147 539v1M147 562v1M148 83v1M148 108v2M148 122v1M148 164v2M148 172v1M148 214v2M148 307v15M148 324v16M148 430v3M148 474v1M148 481v2M148 524v1M148 537v2M148 563v1M149 110v1M149 163v1M149 173v1M149 212v2M149 297v10M149 340v9M149 433v2M149 473v1M149 483v1M149 536v1M150 111v1M150 162v1M150 174v1M150 211v1M150 291v1M150 293v4M150 349v5M150 355v1M150 435v1M150 472v1M150 484v1M150 535v1M151 81v1M151 112v1M151 120v1M151 161v1M151 175v1M151 210v1M151 221v1M151 288v3M151 356v3M151 425v1M151 436v1M151 471v1M151 485v1M151 526v1M151 534v1M151 565v1M152 113v1M152 119v1M152 160v1M152 209v1M152 282v6M152 359v6M152 437v1M152 486v1M152 527v1M152 533v1M153 114v2M153 118v1M153 159v1M153 207v2M153 279v3M153 365v3M153 438v2M153 487v1M153 528v1M153 531v2M154 158v1M154 177v1M154 206v1M154 276v3M154 368v3M154 440v1M154 469v1M154 488v1M155 157v1M155 178v1M155 204v2M155 270v6M155 371v6M155 441v2M155 468v1M155 489v1M156 78v1M156 118v1M156 156v1M156 179v1M156 203v1M156 224v1M156 267v3M156 377v3M156 422v1M156 443v1M156 467v1M156 490v1M156 528v1M156 568v1M157 77v1M157 119v1M157 155v1M157 180v1M157 201v2M157 264v3M157 380v3M157 444v2M157 466v1M157 491v1M157 527v1M157 569v1M158 114v1M158 120v2M158 154v1M158 200v1M158 262v2M158 383v2M158 446v1M158 492v1M158 525v2M158 532v1M159 113v1M159 122v1M159 153v1M159 198v2M159 260v1M159 386v1M159 447v2M159 493v1M159 524v1M159 533v1M160 75v1M160 112v1M160 123v1M160 152v1M160 182v1M160 197v1M160 258v2M160 387v2M160 449v1M160 464v1M160 494v1M160 523v1M160 534v1M160 571v1M161 74v1M161 111v1M161 124v1M161 151v1M161 183v1M161 195v2M161 255v3M161 389v3M161 450v2M161 463v1M161 495v1M161 522v1M161 535v1M161 572v1M162 110v1M162 125v1M162 150v1M162 184v1M162 194v1M162 252v3M162 392v3M162 452v1M162 462v1M162 496v1M162 521v1M162 536v1M163 126v2M163 149v1M163 185v1M163 192v2M163 228v1M163 249v3M163 395v2M163 418v1M163 453v2M163 461v1M163 497v1M163 519v2M164 72v1M164 128v1M164 148v1M164 191v1M164 248v1M164 397v2M164 455v1M164 498v1M164 518v1M164 574v1M165 108v1M165 129v1M165 147v1M165 246v2M165 399v2M165 499v1M165 517v1M165 538v1M166 107v1M166 130v1M166 146v1M166 187v1M166 244v2M166 401v2M166 459v1M166 500v1M166 516v1M166 539v1M167 131v1M167 145v1M167 242v2M167 403v2M167 501v1M167 515v1M168 132v2M168 187v1M168 240v2M168 405v2M168 459v1M168 513v2M169 69v1M169 105v1M169 134v1M169 186v1M169 190v1M169 238v2M169 407v2M169 456v1M169 460v1M169 512v1M169 541v1M169 577v1M170 135v1M170 143v1M170 185v1M170 191v1M170 232v1M170 236v2M170 409v2M170 414v1M170 455v1M170 461v1M170 503v1M170 511v1M171 136v1M171 142v1M171 184v1M171 234v2M171 411v1M171 462v1M171 504v1M171 510v1M172 137v1M172 141v1M172 183v1M172 232v1M172 463v1M172 505v1M172 509v1M173 138v1M173 181v2M173 193v1M173 231v1M173 414v2M173 453v1M173 464v2M173 508v1M174 66v1M174 102v1M174 180v1M174 194v1M174 229v2M174 416v2M174 452v1M174 466v1M174 544v1M175 141v1M175 195v1M175 228v1M175 235v1M175 411v1M175 418v1M175 451v1M175 505v1M176 142v1M176 196v1M176 227v1M176 419v1M176 450v1M176 504v1M177 100v1M177 137v1M177 143v1M177 178v1M177 225v2M177 322v2M177 420v2M177 468v1M177 503v1M177 509v1M177 546v1M177 583v1M178 65v1M178 99v1M178 144v2M178 176v2M178 223v2M178 307v15M178 324v16M178 422v2M178 469v2M178 501v2M178 547v1M178 582v1M179 66v2M179 146v1M179 175v1M179 198v1M179 221v2M179 299v8M179 340v7M179 424v2M179 448v1M179 471v1M179 500v1M179 579v2M179 583v1M180 68v2M180 135v1M180 147v1M180 199v1M180 220v1M180 294v3M180 298v1M180 347v2M180 350v3M180 426v1M180 447v1M180 499v1M180 511v1M180 577v2M181 70v1M181 97v1M181 134v1M181 148v1M181 200v1M181 219v1M181 289v5M181 353v5M181 427v1M181 446v1M181 498v1M181 512v1M181 549v1M181 576v1M182 71v2M182 133v1M182 149v1M182 173v1M182 201v1M182 218v1M182 239v1M182 286v3M182 358v2M182 407v1M182 428v1M182 445v1M182 473v1M182 497v1M182 513v1M182 574v2M183 73v2M183 132v1M183 150v2M183 171v2M183 216v2M183 281v5M183 360v5M183 429v2M183 474v2M183 495v2M183 514v1M183 572v2M184 75v1M184 131v1M184 152v1M184 170v1M184 215v1M184 279v2M184 365v3M184 431v1M184 476v1M184 494v1M184 515v1M184 570v2M185 76v2M185 153v1M185 203v1M185 214v1M185 276v3M185 368v2M185 432v1M185 443v1M185 493v1M185 569v1M186 78v2M186 94v1M186 154v1M186 204v1M186 213v1M186 274v2M186 370v3M186 433v1M186 442v1M186 492v1M186 552v1M186 567v2M187 80v2M187 129v1M187 155v1M187 168v1M187 205v1M187 211v2M187 273v1M187 373v1M187 434v2M187 441v1M187 478v1M187 491v1M187 517v1M187 565v2M188 82v1M188 156v2M188 167v1M188 206v1M188 210v1M188 267v4M188 375v5M188 436v1M188 440v1M188 479v1M188 489v2M188 564v1M189 83v2M189 92v1M189 158v1M189 166v1M189 207v1M189 209v1M189 243v1M189 266v1M189 380v1M189 403v1M189 437v1M189 439v1M189 480v1M189 488v1M189 554v1M189 562v2M190 85v2M190 127v1M190 159v1M190 165v1M190 264v2M190 381v1M190 481v1M190 487v1M190 519v1M190 560v2M191 87v2M191 160v1M191 207v1M191 262v2M191 382v3M191 439v1M191 486v1M191 558v2M192 56v1M192 89v1M192 161v1M192 206v1M192 209v1M192 259v3M192 385v2M192 437v1M192 440v1M192 485v1M192 557v1M192 590v1M193 91v1M193 125v1M193 163v1M193 204v2M193 210v1M193 257v2M193 387v2M193 436v1M193 441v2M193 483v1M193 521v1M193 555v1M194 92v2M194 124v1M194 161v1M194 164v1M194 203v1M194 211v1M194 246v1M194 255v2M194 389v3M194 400v1M194 435v1M194 443v1M194 482v1M194 485v1M194 522v1M194 553v2M195 94v2M195 160v1M195 165v1M195 202v1M195 212v1M195 252v3M195 392v2M195 434v1M195 444v1M195 481v1M195 486v1M195 551v2M196 96v1M196 166v1M196 201v1M196 251v1M196 394v2M196 445v1M196 480v1M196 550v1M197 97v2M197 122v1M197 167v1M197 200v1M197 249v2M197 396v1M197 446v1M197 479v1M197 524v1M197 548v2M198 87v1M198 99v2M198 158v1M198 168v2M198 199v1M198 214v1M198 247v1M198 432v1M198 447v1M198 477v2M198 488v1M198 546v2M198 559v1M199 101v1M199 170v1M199 197v2M199 215v1M199 245v2M199 399v2M199 431v1M199 448v2M199 476v1M199 544v2M200 102v2M200 120v1M200 171v1M200 196v1M200 216v1M200 244v1M200 401v2M200 430v1M200 450v1M200 475v1M200 526v1M200 543v1M201 85v1M201 104v2M201 156v1M201 172v1M201 217v1M201 243v1M201 250v1M201 396v1M201 403v1M201 429v1M201 474v1M201 490v1M201 541v2M201 561v1M202 106v2M202 173v1M202 241v2M202 404v1M202 473v1M202 539v2M203 108v1M203 174v2M203 194v1M203 240v1M203 405v2M203 452v1M203 471v2M203 538v1M204 109v2M204 154v1M204 176v1M204 193v1M204 219v1M204 239v1M204 407v1M204 427v1M204 453v1M204 470v1M204 492v1M204 536v2M205 111v2M205 177v1M205 192v1M205 220v1M205 237v2M205 408v2M205 426v1M205 454v1M205 469v1M205 534v2M206 113v2M206 178v1M206 191v1M206 221v1M206 235v2M206 253v1M206 393v1M206 410v2M206 425v1M206 455v1M206 468v1M206 532v2M207 152v1M207 179v1M207 190v1M207 222v1M207 234v1M207 323v1M207 412v1M207 424v1M207 456v1M207 467v1M207 494v1M207 531v1M208 117v1M208 180v2M208 223v1M208 232v2M208 308v15M208 324v14M208 413v1M208 423v1M208 465v2M208 529v1M209 118v2M209 182v1M209 231v1M209 303v5M209 338v6M209 414v2M209 464v1M209 527v2M210 120v2M210 150v1M210 183v1M210 188v1M210 230v1M210 298v4M210 345v3M210 416v1M210 458v1M210 463v1M210 496v1M210 525v2M211 122v1M211 184v1M211 187v1M211 225v1M211 229v1M211 294v4M211 348v5M211 417v1M211 421v1M211 459v1M211 462v1M211 524v1M211 532v1M212 123v2M212 228v1M212 289v5M212 353v4M212 418v1M212 420v1M212 522v2M213 125v2M213 148v1M213 187v1M213 227v1M213 257v1M213 285v4M213 357v4M213 389v1M213 419v1M213 459v1M213 498v1M213 520v2M214 127v1M214 147v1M214 184v1M214 188v1M214 225v1M214 228v1M214 283v2M214 361v2M214 418v1M214 420v2M214 458v1M214 462v1M214 499v1M214 518v2M215 128v2M215 146v1M215 189v1M215 224v1M215 363v1M215 422v1M215 457v1M215 500v1M215 517v1M216 130v2M216 190v1M216 223v1M216 278v4M216 365v3M216 423v1M216 456v1M216 515v2M217 132v2M217 182v1M217 191v1M217 222v1M217 230v1M217 276v2M217 368v2M217 416v1M217 424v1M217 455v1M217 464v1M217 513v2M218 134v1M218 181v1M218 192v2M218 221v1M218 231v1M218 274v2M218 370v2M218 415v1M218 425v1M218 453v2M218 465v1M218 512v1M219 135v2M219 180v1M219 194v1M219 220v1M219 232v1M219 272v2M219 372v2M219 414v1M219 426v1M219 452v1M219 466v1M219 510v2M220 137v2M220 195v1M220 218v2M220 233v1M220 261v1M220 270v2M220 374v2M220 385v1M220 413v1M220 427v1M220 451v1M220 508v2M221 139v2M221 196v1M221 217v1M221 234v1M221 268v2M221 376v2M221 412v1M221 428v2M221 450v1M221 506v2M222 108v1M222 178v1M222 197v1M222 266v2M222 378v2M222 449v1M222 468v1M222 505v1M222 538v1M223 143v1M223 177v1M223 198v2M223 264v2M223 380v2M223 447v2M223 469v1M223 503v1M224 144v2M224 176v1M224 200v1M224 215v1M224 236v1M224 410v1M224 431v1M224 446v1M224 470v1M224 501v2M225 41v1M225 146v2M225 201v1M225 214v1M225 237v1M225 261v2M225 264v1M225 384v1M225 409v1M225 432v1M225 445v1M225 499v2M225 605v1M226 43v3M226 202v1M226 213v1M226 238v1M226 259v2M226 385v2M226 408v1M226 433v1M226 444v1M226 506v1M226 601v3M227 46v2M227 149v2M227 203v1M227 212v1M227 239v1M227 257v2M227 387v2M227 407v1M227 434v1M227 443v1M227 496v2M227 599v2M228 48v3M228 139v1M228 151v2M228 174v1M228 204v2M228 211v1M228 256v1M228 389v2M228 435v1M228 441v2M228 472v1M228 494v2M228 507v1M228 596v3M229 51v3M229 138v1M229 153v1M229 206v1M229 210v1M229 254v2M229 391v1M229 436v1M229 440v1M229 492v2M229 508v1M229 593v3M230 54v3M230 154v2M230 207v1M230 241v1M230 253v1M230 392v2M230 405v1M230 439v1M230 491v1M230 590v3M231 57v2M231 156v2M231 172v1M231 208v1M231 242v1M231 252v1M231 394v1M231 404v1M231 438v1M231 474v1M231 489v2M231 588v2M232 59v3M232 158v2M232 171v1M232 243v1M232 251v1M232 268v1M232 378v1M232 395v1M232 403v1M232 475v1M232 487v2M232 585v3M233 62v3M233 160v1M233 207v1M233 210v1M233 244v1M233 249v2M233 396v1M233 402v1M233 436v1M233 439v1M233 486v1M233 582v3M234 65v3M234 161v2M234 206v1M234 211v2M234 248v1M234 397v2M234 434v2M234 440v1M234 484v2M234 579v3M235 68v2M235 163v2M235 169v1M235 205v1M235 213v1M235 247v1M235 399v1M235 433v1M235 441v1M235 482v2M235 577v2M236 71v2M236 102v1M236 165v2M236 214v1M236 246v1M236 400v1M236 432v1M236 480v2M236 544v1M236 574v2M237 73v3M237 215v1M237 244v2M237 247v1M237 323v1M237 399v1M237 401v1M237 431v1M237 479v1M237 571v3M238 76v3M238 169v1M238 203v1M238 216v1M238 243v1M238 248v1M238 310v13M238 324v12M238 398v1M238 402v2M238 430v1M238 443v1M238 477v1M238 568v3M239 79v3M239 170v2M239 217v2M239 249v1M239 272v1M239 306v1M239 309v1M239 336v2M239 340v1M239 374v1M239 397v1M239 428v2M239 475v2M239 479v1M239 565v3M240 82v2M240 172v2M240 219v1M240 241v1M240 250v1M240 301v5M240 341v4M240 396v1M240 427v1M240 473v2M240 563v2M241 84v3M241 174v1M241 220v1M241 240v1M241 297v4M241 345v5M241 405v2M241 426v1M241 472v1M241 560v3M242 87v3M242 175v2M242 221v1M242 239v1M242 294v3M242 350v3M242 407v1M242 425v1M242 470v2M242 557v3M243 90v3M243 177v2M243 200v1M243 222v1M243 252v1M243 394v1M243 424v1M243 446v1M243 468v2M243 554v3M244 93v2M244 179v1M244 199v1M244 223v2M244 237v1M244 253v1M244 275v1M244 289v3M244 355v2M244 371v1M244 393v1M244 408v2M244 422v2M244 447v1M244 466v2M244 552v2M245 95v3M245 180v2M245 225v1M245 254v1M245 287v2M245 357v3M245 392v1M245 421v1M245 465v1M245 549v3M246 99v2M246 182v2M246 226v1M246 235v1M246 255v1M246 285v2M246 360v1M246 391v1M246 420v1M246 463v2M246 546v2M247 101v3M247 184v2M247 197v1M247 227v1M247 234v1M247 282v3M247 361v3M247 411v2M247 419v1M247 449v1M247 461v2M247 543v3M248 104v2M248 186v1M248 196v1M248 228v1M248 281v1M248 364v2M248 418v1M248 450v1M248 460v1M248 541v2M249 106v3M249 187v2M249 229v2M249 257v1M249 279v2M249 366v1M249 389v1M249 416v2M249 458v2M249 538v3M250 109v3M250 189v2M250 258v1M250 277v1M250 369v1M250 388v1M250 456v2M250 535v3M251 112v3M251 191v2M251 259v1M251 276v1M251 279v1M251 370v1M251 387v1M251 454v2M251 532v3M252 115v3M252 160v1M252 230v1M252 233v1M252 260v1M252 274v2M252 371v1M252 386v1M252 413v1M252 416v1M252 453v1M252 486v1M252 529v3M253 118v2M253 195v1M253 234v1M253 273v1M253 372v2M253 412v1M253 451v1M253 527v2M254 120v3M254 196v2M254 235v2M254 272v1M254 374v1M254 410v2M254 449v2M254 453v1M254 524v3M255 123v3M255 192v1M255 198v2M255 228v1M255 237v1M255 262v1M255 270v2M255 375v1M255 384v1M255 409v1M255 418v1M255 447v2M255 454v1M255 521v3M256 63v1M256 127v2M256 200v1M256 227v1M256 238v1M256 263v1M256 269v1M256 376v2M256 383v1M256 408v1M256 419v1M256 446v1M256 518v2M256 583v1M257 129v2M257 201v2M257 226v1M257 239v1M257 268v1M257 378v1M257 407v1M257 420v1M257 444v2M257 516v2M258 131v3M258 203v2M258 240v1M258 267v1M258 283v1M258 363v1M258 379v1M258 406v1M258 442v2M258 513v3M259 134v3M259 205v1M259 241v2M259 404v2M259 440v2M259 510v3M260 137v3M260 206v2M260 224v1M260 243v1M260 264v2M260 381v1M260 403v1M260 422v1M260 439v1M260 507v3M261 140v2M261 208v2M261 244v1M261 263v1M261 267v1M261 379v1M261 382v2M261 402v1M261 437v2M261 505v2M262 142v3M262 210v2M262 245v1M262 262v1M262 268v1M262 378v1M262 384v1M262 401v1M262 435v2M262 502v3M263 145v3M263 212v1M263 246v1M263 261v1M263 269v1M263 286v1M263 360v1M263 377v1M263 385v1M263 400v1M263 434v1M263 499v3M264 148v3M264 213v2M264 247v2M264 260v1M264 270v1M264 376v1M264 386v1M264 398v2M264 432v2M264 496v3M265 151v2M265 215v2M265 249v1M265 259v1M265 271v1M265 375v1M265 387v1M265 397v1M265 430v2M265 494v2M266 153v1M266 217v2M266 250v1M266 258v1M266 388v1M266 396v1M266 428v2M266 493v1M267 156v3M267 251v1M267 257v1M267 389v1M267 395v1M267 427v1M267 488v3M268 159v3M268 221v1M268 252v1M268 273v1M268 314v9M268 324v9M268 373v1M268 394v1M268 425v1M268 485v3M269 162v3M269 222v2M269 253v2M269 274v1M269 309v4M269 334v4M269 372v1M269 392v2M269 423v2M269 427v1M269 482v3M270 165v2M270 185v1M270 224v2M270 255v1M270 275v1M270 290v1M270 305v4M270 338v4M270 356v1M270 371v1M270 391v1M270 421v2M270 461v1M270 480v2M271 167v3M271 226v1M271 254v1M271 256v1M271 276v1M271 304v1M271 342v1M271 370v1M271 390v1M271 392v1M271 420v1M271 477v3M272 170v3M272 227v2M272 253v1M272 257v1M272 300v2M272 345v2M272 389v1M272 393v1M272 418v2M272 474v3M273 173v3M273 229v2M273 252v1M273 258v1M273 298v2M273 347v2M273 388v1M273 394v1M273 416v2M273 471v3M274 176v2M274 231v1M274 259v2M274 278v1M274 296v2M274 349v2M274 368v1M274 386v2M274 414v2M274 469v2M275 29v2M275 178v3M275 232v2M275 261v1M275 279v1M275 294v2M275 351v1M275 367v1M275 385v1M275 413v1M275 466v3M275 616v2M276 31v6M276 181v2M276 234v2M276 250v1M276 262v1M276 280v1M276 366v1M276 384v1M276 396v1M276 411v2M276 464v2M276 610v6M277 37v4M277 42v1M277 184v3M277 236v2M277 249v1M277 263v1M277 281v1M277 291v2M277 294v1M277 354v2M277 365v1M277 383v1M277 397v1M277 409v2M277 460v3M277 604v1M277 606v4M278 43v5M278 187v2M278 238v1M278 264v1M278 282v1M278 289v1M278 357v1M278 364v1M278 382v1M278 408v1M278 458v2M278 599v5M279 48v6M279 189v3M279 239v2M279 265v2M279 288v1M279 358v1M279 380v2M279 406v2M279 455v3M279 593v6M280 54v4M280 59v1M280 192v3M280 241v2M280 247v1M280 267v1M280 287v1M280 359v1M280 379v1M280 399v1M280 404v2M280 452v3M280 587v1M280 589v4M281 60v5M281 195v3M281 243v2M281 268v1M281 286v1M281 360v1M281 378v1M281 402v2M281 449v3M281 582v5M282 65v6M282 198v2M282 269v1M282 285v1M282 297v1M282 349v1M282 361v1M282 377v1M282 401v1M282 447v2M282 576v6M283 71v6M283 200v3M283 247v1M283 270v1M283 286v1M283 360v1M283 376v1M283 399v1M283 444v3M283 570v6M284 77v5M284 203v3M284 248v2M284 271v2M284 282v1M284 287v1M284 359v1M284 364v1M284 374v2M284 397v2M284 401v1M284 441v3M284 565v5M285 82v5M285 206v3M285 244v1M285 250v2M285 273v1M285 281v1M285 365v1M285 373v1M285 395v2M285 402v1M285 438v3M285 560v5M286 88v6M286 209v1M286 211v1M286 252v1M286 274v1M286 372v1M286 394v1M286 435v1M286 437v1M286 553v6M287 94v5M287 212v2M287 253v2M287 275v1M287 279v1M287 289v1M287 300v1M287 346v1M287 357v1M287 367v1M287 371v1M287 392v2M287 433v2M287 548v5M288 99v6M288 214v3M288 255v2M288 276v1M288 290v1M288 356v1M288 370v1M288 390v2M288 430v3M288 542v6M289 105v6M289 217v3M289 257v1M289 291v1M289 301v1M289 345v1M289 355v1M289 388v2M289 427v3M289 536v6M290 111v5M290 220v3M290 258v2M290 279v1M290 292v1M290 302v1M290 344v1M290 354v1M290 367v1M290 387v1M290 424v3M290 531v5M291 116v1M291 118v4M291 223v2M291 260v2M291 276v1M291 280v1M291 293v1M291 353v1M291 366v1M291 370v1M291 385v2M291 422v2M291 525v4M291 530v1M292 122v6M292 225v3M292 262v2M292 275v1M292 281v1M292 365v1M292 371v1M292 383v2M292 419v3M292 519v6M293 128v5M293 228v3M293 264v1M293 282v1M293 364v1M293 382v1M293 416v3M293 514v5M294 133v6M294 231v3M294 265v2M294 283v2M294 295v1M294 351v1M294 362v2M294 380v2M294 413v3M294 508v6M295 139v6M295 234v2M295 267v2M295 285v1M295 296v1M295 304v1M295 342v1M295 350v1M295 361v1M295 378v2M295 411v2M295 502v6M296 145v1M296 147v3M296 236v3M296 269v2M296 286v1M296 297v1M296 305v1M296 341v1M296 349v1M296 360v1M296 376v2M296 408v3M296 497v3M296 501v1M297 150v6M297 240v2M297 287v1M297 298v1M297 348v1M297 359v1M297 405v2M297 491v6M298 156v6M298 242v3M298 273v1M298 288v1M298 317v1M298 319v4M298 324v4M298 329v1M298 358v1M298 373v1M298 402v3M298 485v6M299 162v5M299 245v2M299 274v2M299 289v2M299 314v2M299 331v2M299 356v2M299 371v2M299 400v2M299 480v5M300 167v6M300 247v3M300 276v2M300 291v1M300 300v1M300 311v2M300 334v2M300 346v1M300 355v1M300 369v2M300 397v3M300 474v6M301 173v3M301 177v2M301 250v3M301 278v1M301 292v1M301 301v1M301 310v1M301 336v1M301 345v1M301 354v1M301 368v1M301 394v3M301 468v2M301 471v3M302 179v6M302 253v3M302 279v2M302 293v1M302 302v1M302 344v1M302 353v1M302 366v2M302 391v3M302 462v6M303 185v5M303 256v3M303 281v2M303 294v1M303 303v1M303 306v1M303 340v1M303 343v1M303 352v1M303 364v2M303 388v3M303 457v5M304 190v6M304 259v2M304 283v1M304 295v2M304 305v1M304 341v1M304 350v2M304 362v2M304 386v2M304 451v6M305 196v6M305 261v3M305 284v2M305 297v1M305 349v1M305 361v1M305 383v3M305 445v6M306 202v3M306 264v3M306 286v2M306 298v1M306 305v1M306 341v1M306 348v1M306 359v2M306 380v3M306 442v3M307 207v6M307 269v1M307 288v2M307 299v1M307 306v1M307 340v1M307 347v1M307 357v2M307 377v1M307 434v6M308 213v6M308 270v2M308 290v1M308 307v1M308 312v1M308 334v1M308 339v1M308 356v1M308 375v2M308 428v6M309 219v5M309 272v3M309 291v2M309 302v1M309 308v1M309 338v1M309 344v1M309 354v2M309 372v3M309 423v5M310 224v6M310 275v3M310 293v2M310 303v1M310 309v1M310 317v1M310 329v1M310 337v1M310 343v1M310 352v2M310 369v3M310 417v6M311 230v5M311 278v3M311 295v2M311 304v1M311 342v1M311 350v2M311 366v3M311 412v5M312 236v5M312 281v2M312 305v1M312 341v1M312 364v2M312 406v5M313 241v6M313 283v3M313 299v1M313 306v1M313 311v1M313 335v1M313 340v1M313 347v1M313 361v3M313 400v6M314 247v6M314 286v3M314 300v2M314 307v2M314 312v1M314 318v1M314 328v1M314 334v1M314 338v2M314 345v2M314 358v3M314 394v6M315 253v5M315 289v3M315 302v2M315 309v1M315 313v1M315 316v1M315 330v1M315 333v1M315 337v1M315 343v2M315 355v3M315 389v5M316 258v6M316 292v2M316 304v1M316 310v1M316 314v1M316 332v1M316 336v1M316 342v1M316 353v2M316 383v6M317 266v4M317 294v1M317 305v2M317 311v1M317 319v1M317 327v1M317 335v1M317 340v2M317 352v1M317 377v4M318 270v5M318 297v3M318 307v2M318 312v1M318 334v1M318 338v2M318 347v3M318 372v5M319 275v6M319 300v3M319 309v1M319 313v2M319 316v1M319 322v1M319 324v1M319 330v1M319 332v2M319 336v2M319 344v3M319 366v6M320 281v6M320 303v3M320 310v2M320 315v1M320 317v1M320 319v1M320 327v1M320 329v1M320 331v1M320 335v1M320 341v3M320 360v6M321 287v5M321 306v2M321 312v2M321 316v1M321 318v1M321 328v1M321 330v1M321 333v2M321 339v2M321 355v5M322 292v2M322 295v3M322 308v3M322 314v2M322 317v1M322 319v1M322 327v1M322 329v1M322 331v2M322 336v3M322 349v3M322 353v2M323 298v6M323 311v3M323 333v3M323 343v6M324 24v1M324 304v5M324 315v1M324 331v1M324 338v5M324 622v1M325 309v5M325 333v5M327 24v29M327 54v29M327 84v29M327 114v29M327 145v28M327 175v29M327 205v29M327 235v29M327 265v29M327 295v20M327 332v20M327 353v29M327 383v29M327 413v29M327 443v29M327 474v28M327 504v29M327 534v29M327 564v29M327 594v29M329 24v1M329 309v5M329 333v5M329 622v1M330 304v5M330 315v1M330 331v1M330 338v5M331 298v6M331 311v3M331 333v3M331 343v6M332 292v2M332 295v3M332 308v3M332 314v2M332 317v1M332 319v1M332 327v1M332 329v1M332 331v2M332 336v3M332 349v3M332 353v2M333 287v5M333 306v2M333 312v2M333 316v1M333 318v1M333 328v1M333 330v1M333 333v2M333 339v2M333 355v5M334 281v6M334 303v3M334 310v2M334 315v1M334 317v1M334 319v1M334 327v1M334 329v1M334 331v1M334 335v2M334 341v3M334 360v6M335 275v6M335 300v3M335 309v1M335 313v2M335 316v1M335 330v1M335 332v2M335 337v1M335 344v3M335 366v6M336 270v5M336 297v3M336 307v2M336 312v1M336 334v1M336 338v2M336 347v3M336 372v5M337 266v4M337 294v1M337 305v2M337 311v1M337 335v1M337 340v2M337 352v1M337 377v4M338 258v6M338 292v2M338 303v2M338 310v1M338 314v1M338 332v1M338 336v1M338 342v2M338 353v2M338 383v6M339 253v5M339 289v3M339 302v1M339 309v1M339 313v1M339 316v1M339 319v1M339 327v1M339 330v1M339 333v1M339 337v1M339 344v1M339 355v3M339 389v5M340 247v6M340 286v3M340 300v2M340 307v2M340 312v1M340 334v1M340 338v2M340 345v2M340 358v3M340 394v6M341 241v6M341 283v3M341 299v1M341 306v1M341 311v1M341 335v1M341 340v1M341 347v1M341 361v3M341 400v6M342 236v5M342 281v2M342 296v1M342 305v1M342 341v1M342 350v1M342 364v2M342 406v5M343 230v5M343 278v3M343 295v1M343 304v1M343 342v1M343 351v1M343 366v3M343 412v5M344 224v6M344 275v3M344 293v2M344 303v1M344 309v1M344 337v1M344 343v1M344 352v2M344 369v3M344 417v6M345 219v5M345 272v3M345 291v2M345 302v1M345 308v1M345 338v1M345 344v1M345 354v2M345 372v3M345 423v5M346 213v6M346 270v2M346 289v2M346 307v1M346 312v1M346 334v1M346 339v1M346 356v2M346 375v2M346 428v6M347 207v6M347 269v1M347 288v1M347 299v1M347 306v1M347 340v1M347 347v1M347 358v1M347 377v1M347 434v6M348 202v3M348 264v3M348 286v2M348 298v1M348 305v1M348 341v1M348 348v1M348 359v2M348 380v3M348 442v3M349 196v6M349 261v3M349 284v2M349 297v1M349 349v1M349 361v2M349 383v3M349 445v6M350 190v6M350 259v2M350 282v2M350 295v2M350 305v1M350 341v1M350 350v2M350 363v2M350 386v2M350 451v6M351 185v5M351 256v3M351 281v1M351 294v1M351 303v1M351 306v1M351 340v1M351 343v1M351 352v1M351 365v1M351 388v3M351 457v5M352 179v6M352 253v3M352 279v2M352 293v1M352 302v1M352 344v1M352 353v1M352 366v2M352 391v3M352 462v6M353 173v3M353 177v2M353 250v3M353 277v2M353 292v1M353 301v1M353 345v1M353 354v1M353 368v2M353 394v3M353 468v2M353 471v3M354 167v6M354 247v3M354 276v1M354 291v1M354 300v1M354 311v2M354 334v2M354 346v1M354 355v1M354 370v1M354 397v3M354 474v6M355 162v5M355 245v2M355 274v2M355 289v2M355 314v2M355 331v2M355 356v2M355 371v2M355 400v2M355 480v5M356 156v6M356 242v3M356 273v1M356 288v1M356 306v1M356 317v1M356 319v4M356 324v4M356 329v1M356 340v1M356 358v1M356 373v1M356 402v3M356 485v6M357 150v6M357 239v1M357 241v1M357 270v1M357 287v1M357 298v1M357 348v1M357 359v1M357 376v1M357 405v1M357 407v1M357 491v6M358 145v1M358 147v3M358 236v3M358 269v1M358 286v1M358 297v1M358 349v1M358 360v1M358 377v1M358 408v3M358 497v3M358 501v1M359 139v6M359 234v2M359 267v2M359 285v1M359 296v1M359 350v1M359 361v1M359 378v2M359 411v2M359 502v6M360 133v6M360 231v3M360 265v2M360 283v2M360 295v1M360 304v1M360 342v1M360 351v1M360 362v2M360 380v2M360 413v3M360 508v6M361 128v5M361 228v3M361 263v2M361 282v1M361 364v1M361 382v2M361 416v3M361 514v5M362 122v6M362 225v3M362 262v1M362 275v1M362 281v1M362 303v1M362 343v1M362 365v1M362 371v1M362 384v1M362 419v3M362 519v6M363 116v1M363 118v4M363 223v2M363 260v2M363 276v1M363 280v1M363 293v1M363 353v1M363 366v1M363 370v1M363 385v2M363 422v2M363 525v4M363 530v1M364 111v5M364 220v3M364 242v1M364 258v2M364 279v1M364 292v1M364 354v1M364 367v1M364 387v2M364 404v1M364 424v3M364 531v5M365 105v6M365 217v3M365 256v2M365 291v1M365 301v1M365 345v1M365 355v1M365 389v2M365 427v3M365 536v6M366 99v6M366 214v3M366 255v1M366 276v1M366 290v1M366 356v1M366 370v1M366 391v1M366 430v3M366 542v6M367 94v5M367 212v2M367 253v2M367 275v1M367 279v1M367 289v1M367 357v1M367 367v1M367 371v1M367 392v2M367 433v2M367 548v5M368 88v6M368 209v2M368 251v2M368 274v1M368 372v1M368 394v2M368 436v2M368 553v6M369 82v5M369 206v3M369 249v2M369 273v1M369 281v1M369 365v1M369 373v1M369 396v2M369 438v3M369 560v5M370 77v5M370 203v3M370 245v1M370 248v1M370 271v2M370 282v1M370 287v1M370 359v1M370 364v1M370 374v2M370 398v1M370 401v1M370 441v3M370 565v5M371 71v6M371 200v3M371 247v1M371 270v1M371 286v1M371 360v1M371 376v1M371 399v1M371 444v3M371 570v6M372 65v6M372 198v2M372 244v2M372 269v1M372 285v1M372 297v1M372 349v1M372 361v1M372 377v1M372 401v2M372 447v2M372 576v6M373 60v5M373 195v3M373 242v2M373 268v1M373 286v1M373 360v1M373 378v1M373 403v2M373 449v3M373 582v5M374 54v4M374 59v1M374 192v3M374 241v1M374 247v1M374 267v1M374 287v1M374 359v1M374 379v1M374 399v1M374 405v1M374 452v3M374 587v1M374 589v4M375 48v6M375 189v3M375 239v2M375 248v1M375 265v2M375 288v1M375 358v1M375 380v2M375 398v1M375 406v2M375 455v3M375 593v6M376 43v5M376 187v2M376 237v2M376 264v1M376 282v1M376 290v1M376 356v1M376 364v1M376 382v1M376 408v2M376 458v2M376 599v5M377 37v5M377 184v3M377 235v2M377 263v1M377 281v1M377 291v2M377 294v1M377 354v2M377 365v1M377 383v1M377 410v2M377 460v3M377 605v5M378 31v6M378 181v2M378 234v1M378 250v1M378 262v1M378 280v1M378 366v1M378 384v1M378 396v1M378 412v1M378 464v2M378 610v6M379 29v2M379 178v3M379 232v2M379 251v1M379 261v1M379 279v1M379 294v2M379 351v1M379 367v1M379 385v1M379 395v1M379 413v2M379 466v3M379 616v2M380 176v2M380 230v2M380 259v2M380 278v1M380 296v2M380 349v2M380 368v1M380 386v2M380 415v2M380 469v2M381 173v3M381 228v2M381 258v1M381 298v2M381 347v2M381 388v1M381 417v2M381 471v3M382 170v3M382 227v1M382 253v1M382 257v1M382 300v2M382 345v2M382 389v1M382 393v1M382 419v1M382 474v3M383 167v3M383 225v2M383 254v1M383 256v1M383 276v1M383 304v1M383 342v1M383 370v1M383 390v1M383 392v1M383 420v2M383 477v3M384 165v2M384 185v1M384 223v2M384 255v1M384 275v1M384 290v1M384 305v4M384 338v4M384 356v1M384 371v1M384 391v1M384 422v2M384 461v1M384 480v2M385 162v3M385 186v1M385 221v2M385 253v2M385 256v1M385 274v1M385 309v4M385 334v4M385 372v1M385 390v1M385 392v2M385 424v2M385 460v1M385 482v3M386 159v3M386 252v1M386 273v1M386 314v9M386 324v9M386 373v1M386 394v1M386 485v3M387 156v3M387 218v2M387 251v1M387 395v1M387 427v2M387 488v3M388 153v1M388 216v2M388 221v1M388 250v1M388 258v1M388 388v1M388 396v1M388 425v1M388 429v2M388 493v1M389 151v2M389 214v2M389 249v1M389 259v1M389 271v1M389 375v1M389 387v1M389 397v1M389 431v2M389 494v2M390 148v3M390 213v1M390 247v2M390 260v1M390 270v1M390 376v1M390 386v1M390 398v2M390 433v1M390 496v3M391 145v3M391 211v2M391 246v1M391 261v1M391 269v1M391 286v1M391 360v1M391 377v1M391 385v1M391 400v1M391 434v2M391 499v3M392 142v3M392 209v2M392 245v1M392 262v1M392 268v1M392 378v1M392 384v1M392 401v1M392 436v2M392 502v3M393 140v2M393 207v2M393 244v1M393 263v1M393 382v2M393 402v1M393 438v2M393 505v2M394 137v3M394 206v1M394 243v1M394 264v2M394 267v1M394 379v1M394 381v1M394 403v1M394 440v1M394 507v3M395 134v3M395 204v2M395 225v1M395 241v2M395 266v1M395 380v1M395 404v2M395 421v1M395 441v2M395 510v3M396 131v3M396 202v2M396 240v1M396 265v1M396 267v1M396 283v1M396 363v1M396 379v1M396 381v1M396 406v1M396 443v2M396 513v3M397 129v2M397 200v2M397 239v1M397 264v1M397 268v1M397 378v1M397 382v1M397 407v1M397 445v2M397 516v2M398 128v1M398 199v1M398 227v1M398 238v1M398 263v1M398 269v1M398 376v2M398 383v1M398 408v1M398 419v1M398 447v1M398 518v1M399 123v3M399 197v2M399 228v1M399 237v1M399 262v1M399 270v2M399 375v1M399 384v1M399 409v1M399 418v1M399 448v2M399 521v3M400 120v3M400 195v2M400 229v1M400 235v2M400 272v1M400 374v1M400 410v2M400 417v1M400 450v2M400 524v3M401 118v2M401 234v1M401 273v1M401 372v2M401 412v1M401 527v2M402 115v3M402 192v1M402 233v1M402 260v1M402 274v2M402 371v1M402 386v1M402 413v1M402 454v1M402 529v3M403 112v3M403 190v2M403 259v1M403 276v1M403 279v1M403 370v1M403 387v1M403 455v2M403 532v3M404 109v3M404 188v2M404 258v1M404 277v1M404 369v1M404 388v1M404 457v2M404 535v3M405 106v3M405 187v1M405 229v2M405 233v1M405 257v1M405 279v2M405 366v1M405 389v1M405 413v1M405 416v2M405 459v1M405 538v3M406 104v2M406 185v2M406 228v1M406 281v1M406 364v2M406 418v1M406 460v2M406 541v2M407 101v3M407 183v2M407 197v1M407 227v1M407 282v3M407 361v3M407 411v1M407 419v1M407 449v1M407 462v2M407 543v3M408 99v2M408 181v2M408 198v1M408 226v1M408 235v2M408 255v1M408 285v2M408 360v1M408 391v1M408 410v1M408 420v1M408 448v1M408 464v2M408 546v2M409 95v3M409 180v1M409 225v1M409 254v1M409 287v2M409 357v3M409 392v1M409 421v1M409 466v1M409 549v3M410 93v2M410 178v2M410 223v2M410 253v1M410 275v1M410 289v3M410 355v2M410 371v1M410 393v1M410 422v2M410 467v2M410 552v2M411 90v3M411 176v2M411 200v1M411 222v1M411 238v2M411 252v1M411 394v1M411 407v1M411 424v1M411 446v1M411 469v2M411 554v3M412 88v2M412 174v2M412 221v1M412 294v3M412 350v3M412 425v1M412 471v2M412 557v1M413 84v3M413 173v1M413 220v1M413 297v4M413 345v5M413 405v1M413 426v1M413 473v1M413 560v3M414 82v2M414 171v2M414 219v1M414 241v2M414 250v1M414 301v5M414 341v4M414 396v1M414 404v1M414 427v1M414 474v2M414 563v2M415 79v3M415 169v2M415 217v2M415 249v1M415 272v1M415 306v1M415 309v1M415 336v2M415 340v1M415 374v1M415 397v1M415 428v2M415 476v2M415 565v3M416 76v3M416 203v1M416 216v1M416 248v1M416 310v13M416 324v12M416 398v1M416 402v1M416 430v1M416 443v1M416 568v3M417 73v3M417 102v1M417 166v1M417 204v1M417 215v1M417 244v2M417 247v1M417 323v1M417 399v1M417 401v1M417 431v1M417 442v1M417 480v1M417 544v1M417 571v3M418 71v2M418 164v2M418 214v1M418 246v1M418 400v1M418 432v1M418 481v2M418 574v2M419 68v2M419 162v2M419 213v1M419 247v1M419 399v1M419 433v1M419 483v2M419 577v2M420 65v3M420 160v2M420 206v1M420 248v1M420 397v2M420 440v1M420 485v2M420 579v3M421 62v3M421 159v1M421 207v1M421 244v1M421 249v2M421 396v1M421 402v1M421 439v1M421 487v1M421 582v3M422 59v3M422 157v2M422 171v1M422 243v1M422 251v1M422 268v1M422 378v1M422 395v1M422 403v1M422 475v1M422 488v2M422 585v3M423 57v2M423 155v2M423 172v1M423 242v1M423 252v1M423 394v1M423 404v1M423 474v1M423 490v2M423 588v2M424 54v3M424 153v2M424 207v1M424 241v1M424 253v1M424 392v2M424 405v1M424 439v1M424 492v2M424 590v3M425 51v3M425 138v1M425 152v1M425 206v1M425 254v2M425 391v1M425 440v1M425 494v1M425 508v1M425 593v3M426 48v3M426 150v2M426 204v2M426 211v1M426 256v1M426 389v2M426 435v1M426 441v2M426 495v2M426 596v3M427 46v2M427 139v1M427 174v1M427 203v1M427 212v1M427 239v1M427 257v2M427 387v2M427 407v1M427 434v1M427 443v1M427 472v1M427 507v1M427 599v2M428 43v3M428 140v1M428 146v2M428 202v1M428 213v1M428 238v1M428 259v2M428 385v2M428 408v1M428 433v1M428 444v1M428 499v2M428 506v1M428 601v3M429 41v1M429 145v1M429 201v1M429 214v1M429 237v1M429 261v2M429 264v1M429 384v1M429 409v1M429 432v1M429 445v1M429 501v1M429 605v1M430 143v2M430 176v1M430 200v1M430 215v1M430 236v1M430 410v1M430 431v1M430 446v1M430 470v1M430 502v2M431 177v1M431 198v2M431 216v1M431 264v2M431 380v2M431 430v1M431 447v2M431 469v1M432 139v2M432 178v1M432 197v1M432 266v2M432 378v2M432 449v1M432 468v1M432 506v2M433 138v1M433 196v1M433 234v1M433 268v2M433 376v2M433 412v1M433 428v1M433 450v1M433 508v1M434 136v2M434 195v1M434 218v2M434 233v1M434 261v1M434 270v2M434 374v2M434 385v1M434 413v1M434 427v1M434 451v1M434 509v2M435 110v1M435 134v2M435 180v1M435 194v1M435 220v1M435 232v1M435 272v2M435 372v2M435 414v1M435 426v1M435 452v1M435 466v1M435 511v2M435 536v1M436 132v2M436 181v1M436 192v2M436 221v1M436 231v1M436 274v2M436 370v2M436 415v1M436 425v1M436 453v2M436 465v1M436 513v2M437 131v1M437 182v1M437 191v1M437 222v1M437 230v1M437 276v2M437 368v2M437 416v1M437 424v1M437 455v1M437 464v1M437 515v1M438 129v2M438 190v1M438 223v1M438 278v4M438 365v3M438 423v1M438 456v1M438 516v2M439 127v2M439 146v1M439 189v1M439 224v1M439 363v1M439 422v1M439 457v1M439 500v1M439 518v2M440 125v2M440 147v1M440 184v1M440 188v1M440 225v1M440 228v1M440 283v2M440 361v2M440 418v1M440 420v2M440 458v1M440 462v1M440 499v1M440 520v2M441 124v1M441 148v1M441 187v1M441 227v1M441 257v1M441 285v4M441 357v4M441 389v1M441 419v1M441 459v1M441 498v1M441 522v1M442 122v2M442 228v1M442 289v5M442 353v4M442 418v1M442 420v1M442 523v2M443 120v2M443 184v1M443 187v1M443 225v1M443 229v1M443 294v4M443 348v5M443 417v1M443 421v1M443 459v1M443 462v1M443 525v2M444 48v1M444 118v2M444 150v1M444 183v1M444 188v1M444 230v1M444 298v4M444 345v3M444 416v1M444 458v1M444 463v1M444 496v1M444 527v2M444 598v1M445 117v1M445 182v1M445 231v1M445 303v5M445 338v6M445 414v2M445 464v1M445 529v1M446 180v2M446 223v1M446 232v2M446 308v15M446 324v14M446 413v1M446 423v1M446 465v2M447 113v2M447 152v1M447 179v1M447 190v1M447 222v1M447 234v1M447 323v1M447 412v1M447 424v1M447 456v1M447 467v1M447 494v1M447 532v2M448 111v2M448 178v1M448 191v1M448 221v1M448 235v2M448 253v1M448 393v1M448 410v2M448 425v1M448 455v1M448 468v1M448 534v2M449 110v1M449 177v1M449 192v1M449 220v1M449 237v2M449 408v2M449 426v1M449 454v1M449 469v1M449 536v1M450 108v2M450 118v1M450 154v1M450 176v1M450 193v1M450 219v1M450 239v1M450 407v1M450 427v1M450 453v1M450 470v1M450 492v1M450 528v1M450 537v2M451 106v2M451 174v2M451 194v1M451 240v1M451 405v2M451 452v1M451 471v2M451 539v2M452 105v1M452 173v1M452 241v2M452 404v1M452 473v1M452 541v1M453 103v2M453 156v1M453 172v1M453 217v1M453 243v1M453 250v1M453 396v1M453 403v1M453 429v1M453 474v1M453 490v1M453 542v2M454 86v1M454 101v2M454 171v1M454 196v1M454 216v1M454 244v1M454 401v2M454 430v1M454 450v1M454 475v1M454 544v2M454 560v1M455 99v2M455 170v1M455 197v2M455 215v1M455 245v2M455 399v2M455 431v1M455 448v2M455 476v1M455 546v2M456 98v1M456 158v1M456 168v2M456 199v1M456 214v1M456 247v1M456 432v1M456 447v1M456 477v2M456 488v1M456 548v1M457 96v2M457 122v1M457 167v1M457 200v1M457 249v2M457 396v1M457 446v1M457 479v1M457 524v1M457 549v2M458 94v2M458 123v1M458 166v1M458 201v1M458 251v1M458 394v2M458 445v1M458 480v1M458 523v1M458 551v2M459 92v2M459 160v1M459 165v1M459 202v1M459 212v1M459 252v3M459 392v2M459 434v1M459 444v1M459 481v1M459 486v1M459 553v2M460 91v1M460 161v1M460 164v1M460 203v1M460 211v1M460 246v1M460 255v2M460 389v3M460 400v1M460 435v1M460 443v1M460 482v1M460 485v1M460 555v1M461 125v1M461 163v1M461 204v2M461 210v1M461 257v2M461 387v2M461 436v1M461 441v2M461 483v1M461 521v1M462 87v2M462 161v1M462 206v1M462 209v1M462 259v3M462 385v2M462 437v1M462 440v1M462 485v1M462 558v2M463 85v2M463 160v1M463 207v1M463 262v2M463 382v3M463 439v1M463 486v1M463 560v2M464 84v1M464 127v1M464 159v1M464 165v1M464 264v2M464 381v1M464 481v1M464 487v1M464 519v1M464 562v1M465 82v2M465 92v1M465 158v1M465 166v1M465 207v1M465 209v1M465 243v1M465 266v1M465 380v1M465 403v1M465 437v1M465 439v1M465 480v1M465 488v1M465 554v1M465 563v2M466 80v2M466 93v1M466 156v2M466 167v1M466 206v1M466 210v1M466 267v4M466 375v5M466 436v1M466 440v1M466 479v1M466 489v2M466 553v1M466 565v2M467 78v2M467 129v1M467 155v1M467 168v1M467 205v1M467 211v2M467 273v1M467 373v1M467 434v2M467 441v1M467 478v1M467 491v1M467 517v1M467 567v2M468 77v1M468 130v1M468 154v1M468 204v1M468 213v1M468 274v2M468 370v3M468 433v1M468 442v1M468 492v1M468 516v1M468 569v1M469 75v2M469 95v1M469 153v1M469 203v1M469 214v1M469 276v3M469 368v2M469 432v1M469 443v1M469 493v1M469 551v1M469 570v2M470 73v2M470 152v1M470 170v1M470 215v1M470 279v2M470 365v3M470 431v1M470 476v1M470 494v1M470 572v2M471 71v2M471 132v1M471 150v2M471 171v2M471 216v2M471 281v5M471 360v5M471 429v2M471 474v2M471 495v2M471 514v1M471 574v2M472 70v1M472 133v1M472 149v1M472 173v1M472 201v1M472 218v1M472 239v1M472 286v3M472 358v2M472 407v1M472 428v1M472 445v1M472 473v1M472 497v1M472 513v1M472 576v1M473 68v2M473 134v1M473 148v1M473 200v1M473 219v1M473 289v5M473 353v5M473 427v1M473 446v1M473 498v1M473 512v1M473 577v2M474 66v2M474 98v1M474 135v1M474 147v1M474 199v1M474 220v1M474 294v3M474 298v1M474 347v2M474 350v3M474 426v1M474 447v1M474 499v1M474 511v1M474 548v1M474 579v2M475 64v2M475 146v1M475 175v1M475 198v1M475 221v2M475 299v8M475 340v7M475 424v2M475 448v1M475 471v1M475 500v1M475 581v2M476 144v2M476 176v2M476 223v2M476 307v15M476 324v16M476 422v2M476 469v2M476 501v2M477 64v1M477 100v1M477 137v1M477 143v1M477 178v1M477 225v2M477 322v2M477 420v2M477 468v1M477 503v1M477 509v1M477 546v1M477 582v1M478 65v1M478 101v1M478 138v1M478 142v1M478 196v1M478 227v1M478 419v1M478 450v1M478 504v1M478 508v1M478 545v1M478 581v1M479 141v1M479 195v1M479 228v1M479 235v1M479 411v1M479 418v1M479 451v1M479 505v1M480 180v1M480 194v1M480 229v2M480 416v2M480 452v1M480 466v1M481 67v1M481 103v1M481 138v1M481 181v2M481 193v1M481 231v1M481 414v2M481 453v1M481 464v2M481 508v1M481 543v1M481 579v1M482 137v1M482 141v1M482 183v1M482 232v1M482 463v1M482 505v1M482 509v1M483 136v1M483 142v1M483 184v1M483 234v2M483 411v1M483 462v1M483 504v1M483 510v1M484 135v1M484 143v1M484 185v1M484 191v1M484 232v1M484 236v2M484 409v2M484 414v1M484 455v1M484 461v1M484 503v1M484 511v1M485 134v1M485 186v1M485 190v1M485 238v2M485 407v2M485 456v1M485 460v1M485 512v1M486 106v1M486 132v2M486 187v1M486 240v2M486 405v2M486 459v1M486 513v2M486 540v1M487 131v1M487 145v1M487 242v2M487 403v2M487 501v1M487 515v1M488 130v1M488 146v1M488 187v1M488 244v2M488 401v2M488 459v1M488 500v1M488 516v1M489 108v1M489 129v1M489 147v1M489 246v2M489 399v2M489 499v1M489 517v1M489 538v1M490 72v1M490 109v1M490 128v1M490 148v1M490 191v1M490 248v1M490 397v2M490 455v1M490 498v1M490 518v1M490 537v1M490 574v1M491 73v1M491 126v2M491 149v1M491 185v1M491 192v2M491 228v1M491 249v3M491 395v2M491 418v1M491 453v2M491 461v1M491 497v1M491 519v2M491 573v1M492 125v1M492 150v1M492 184v1M492 194v1M492 252v3M492 392v3M492 452v1M492 462v1M492 496v1M492 521v1M493 111v1M493 124v1M493 151v1M493 183v1M493 195v2M493 255v3M493 389v3M493 450v2M493 463v1M493 495v1M493 522v1M493 535v1M494 75v1M494 112v1M494 123v1M494 152v1M494 182v1M494 197v1M494 258v2M494 387v2M494 449v1M494 464v1M494 494v1M494 523v1M494 534v1M494 571v1M495 76v1M495 113v1M495 122v1M495 153v1M495 198v2M495 260v1M495 386v1M495 447v2M495 493v1M495 524v1M495 533v1M495 570v1M496 114v1M496 120v2M496 154v1M496 200v1M496 262v2M496 383v2M496 446v1M496 492v1M496 525v2M496 532v1M497 115v1M497 119v1M497 155v1M497 180v1M497 201v2M497 264v3M497 380v3M497 444v2M497 466v1M497 491v1M497 527v1M497 531v1M498 78v1M498 118v1M498 156v1M498 179v1M498 203v1M498 224v1M498 267v3M498 377v3M498 422v1M498 443v1M498 467v1M498 490v1M498 528v1M498 568v1M499 157v1M499 178v1M499 204v2M499 270v6M499 371v6M499 441v2M499 468v1M499 489v1M500 158v1M500 177v1M500 206v1M500 276v3M500 368v3M500 440v1M500 469v1M500 488v1M501 114v2M501 118v1M501 159v1M501 207v2M501 279v3M501 365v3M501 438v2M501 487v1M501 528v1M501 531v2M502 113v1M502 119v1M502 160v1M502 209v1M502 282v6M502 359v6M502 437v1M502 486v1M502 527v1M502 533v1M503 81v1M503 112v1M503 120v1M503 161v1M503 175v1M503 210v1M503 221v1M503 288v3M503 356v3M503 425v1M503 436v1M503 471v1M503 485v1M503 526v1M503 534v1M503 565v1M504 82v1M504 111v1M504 121v1M504 162v1M504 174v1M504 211v1M504 291v1M504 293v4M504 349v5M504 355v1M504 435v1M504 472v1M504 484v1M504 525v1M504 535v1M504 564v1M505 110v1M505 163v1M505 173v1M505 212v2M505 297v10M505 340v9M505 433v2M505 473v1M505 483v1M505 536v1M506 108v2M506 164v2M506 172v1M506 214v2M506 307v15M506 324v16M506 430v3M506 474v1M506 481v2M506 537v2M507 84v1M507 107v1M507 123v1M507 166v1M507 171v1M507 216v2M507 322v2M507 429v1M507 475v1M507 480v1M507 523v1M507 539v1M507 562v1M508 85v1M508 106v1M508 124v1M508 167v1M508 479v1M508 522v1M508 540v1M508 561v1M509 105v1M509 168v1M509 219v2M509 425v2M509 478v1M509 541v1M510 104v1M510 169v1M510 217v1M510 221v2M510 424v1M510 429v1M510 477v1M510 542v1M511 87v1M511 102v2M511 126v1M511 168v1M511 170v1M511 223v2M511 422v2M511 475v2M511 478v1M511 520v1M511 543v2M511 559v1M512 88v1M512 101v1M512 127v1M512 167v1M512 171v2M512 225v1M512 421v1M512 474v1M512 479v1M512 519v1M512 545v1M512 558v1M513 89v1M513 100v1M513 128v1M513 166v1M513 173v1M513 226v2M513 419v2M513 473v1M513 480v1M513 518v1M513 546v1M513 557v1M514 90v1M514 99v1M514 129v1M514 174v2M514 228v2M514 416v3M514 471v2M514 517v1M514 547v1M514 556v1M515 91v1M515 98v1M515 130v1M515 176v1M515 230v3M515 414v2M515 470v1M515 515v2M515 548v1M515 555v1M516 92v1M516 96v2M516 131v2M516 164v1M516 177v1M516 233v2M516 412v2M516 469v1M516 482v1M516 514v1M516 549v2M516 554v1M517 95v1M517 133v1M517 163v1M517 178v1M517 213v1M517 235v2M517 410v2M517 433v1M517 468v1M517 483v1M517 513v1M517 551v1M518 134v1M518 162v1M518 179v1M518 237v2M518 408v2M518 467v1M518 484v1M518 512v1M519 161v1M519 180v1M519 239v2M519 406v2M519 465v2M519 485v1M520 95v1M520 160v1M520 181v2M520 241v2M520 403v3M520 464v1M520 486v1M520 551v1M521 136v1M521 183v1M521 243v4M521 400v3M521 463v1M521 510v1M522 137v1M522 184v2M522 210v1M522 247v2M522 397v3M522 436v1M522 461v2M522 509v1M523 97v1M523 138v1M523 158v1M523 186v1M523 249v2M523 396v1M523 460v1M523 488v1M523 508v1M523 549v1M524 98v1M524 139v1M524 157v1M524 187v2M524 252v2M524 393v2M524 458v2M524 489v1M524 507v1M524 548v1M525 99v1M525 140v1M525 156v1M525 189v1M525 254v3M525 389v4M525 457v1M525 490v1M525 505v2M525 547v1M526 100v1M526 141v2M526 155v1M526 190v1M526 257v4M526 386v3M526 455v2M526 491v1M526 504v1M526 546v1M527 101v1M527 143v1M527 191v2M527 261v3M527 382v4M527 454v1M527 503v1M527 545v1M528 102v1M528 144v1M528 193v1M528 264v4M528 379v3M528 453v1M528 501v2M528 544v1M529 145v2M529 153v1M529 194v2M529 206v1M529 268v3M529 375v4M529 440v1M529 451v2M529 493v1M529 500v1M530 147v1M530 152v1M530 196v1M530 271v4M530 372v3M530 449v2M530 494v1M530 499v1M531 104v1M531 148v1M531 151v1M531 197v2M531 275v3M531 368v4M531 447v2M531 495v1M531 498v1M531 542v1M532 105v1M532 199v2M532 278v4M532 364v4M532 445v2M532 541v1M533 106v1M533 201v2M533 282v5M533 288v1M533 357v2M533 360v4M533 444v1M533 540v1M534 107v1M534 151v1M534 289v7M534 350v7M534 494v2M534 539v1M535 108v1M535 148v1M535 152v2M535 204v2M535 296v8M535 343v7M535 440v2M535 493v1M535 498v1M535 538v1M536 109v1M536 147v1M536 154v1M536 202v1M536 206v2M536 304v18M536 325v18M536 438v2M536 444v1M536 492v1M536 499v1M536 537v1M537 146v1M537 155v1M537 208v2M537 322v3M537 436v2M537 491v1M537 500v1M538 145v1M538 156v1M538 210v2M538 434v2M538 490v1M538 501v1M539 111v1M539 144v1M539 157v1M539 212v2M539 432v2M539 489v1M539 502v1M539 535v1M540 112v1M540 158v1M540 214v2M540 431v1M540 487v2M540 533v2M541 113v2M541 159v2M541 199v1M541 216v2M541 429v2M541 447v1M541 486v1M541 532v1M542 115v1M542 142v1M542 161v1M542 218v1M542 427v2M542 485v1M542 504v1M542 531v1M543 116v1M543 141v1M543 162v1M543 219v2M543 425v2M543 483v2M543 505v1M543 530v1M544 117v1M544 140v1M544 163v2M544 221v2M544 423v2M544 482v1M544 506v1M544 529v1M545 118v1M545 139v1M545 165v1M545 223v2M545 421v2M545 480v2M545 507v1M545 528v1M546 119v1M546 166v2M546 225v3M546 418v3M546 478v2M546 527v1M547 120v1M547 168v2M547 228v3M547 415v3M547 477v1M547 525v2M548 121v2M548 137v1M548 170v1M548 195v1M548 231v2M548 413v2M548 451v1M548 475v2M548 509v1M548 524v1M549 123v1M549 136v1M549 171v2M549 233v3M549 410v3M549 474v1M549 510v1M549 523v1M550 124v1M550 135v1M550 173v1M550 236v3M550 408v2M550 473v1M550 511v1M550 522v1M551 125v1M551 134v1M551 174v1M551 239v2M551 406v2M551 471v2M551 512v1M551 521v1M552 126v1M552 175v2M552 242v1M552 403v2M552 470v1M552 520v1M553 127v1M553 177v1M553 243v3M553 400v3M553 468v2M553 519v1M554 128v1M554 132v1M554 178v2M554 246v2M554 398v2M554 466v2M554 514v1M554 517v2M555 129v1M555 180v2M555 191v1M555 248v3M555 395v3M555 455v1M555 465v1M556 182v1M556 251v4M556 391v4M556 463v2M557 132v1M557 183v2M557 255v4M557 387v4M557 462v1M557 513v2M558 133v2M558 185v1M558 259v5M558 383v4M558 460v2M558 512v1M559 135v1M559 186v2M559 264v4M559 378v5M559 459v1M559 511v1M560 136v1M560 188v1M560 268v4M560 374v4M560 456v1M560 510v1M561 137v1M561 190v2M561 272v4M561 370v4M561 454v2M561 509v1M562 138v1M562 192v2M562 276v4M562 366v4M562 453v1M562 508v1M563 139v1M563 194v1M563 280v1M563 283v5M563 358v6M563 451v2M563 507v1M564 140v1M564 195v2M564 288v4M564 354v4M564 450v1M564 505v2M565 141v2M565 197v1M565 292v9M565 346v8M565 448v2M565 504v1M566 143v1M566 198v2M566 301v21M566 325v21M566 446v2M566 503v1M567 144v1M567 184v1M567 200v2M567 322v3M567 444v2M567 462v1M567 501v2M568 145v2M568 202v2M568 442v2M568 500v1M569 147v1M569 204v3M569 440v2M569 499v1M570 148v2M570 207v2M570 438v2M570 497v2M571 150v2M571 209v2M571 435v3M571 495v2M572 152v1M572 211v2M572 433v2M572 494v1M573 153v1M573 213v2M573 431v2M573 492v2M574 154v2M574 180v1M574 215v2M574 429v2M574 466v1M574 491v1M575 156v1M575 217v3M575 427v2M575 490v1M576 157v1M576 220v2M576 425v2M576 488v2M577 158v2M577 222v3M577 421v4M577 487v1M578 160v1M578 225v3M578 418v3M578 486v1M579 161v2M579 177v1M579 228v2M579 417v1M579 469v1M579 484v2M580 163v2M580 232v1M580 414v1M580 482v2M581 165v1M581 233v2M581 412v2M581 480v2M582 166v2M582 235v3M582 408v4M582 478v2M583 168v2M583 238v4M583 405v3M583 477v1M584 170v1M584 242v2M584 403v2M584 475v2M585 171v2M585 244v3M585 399v4M585 474v1M586 173v1M586 247v5M586 395v4M587 174v2M587 252v4M587 390v5M587 470v2M588 176v2M588 256v5M588 386v4M588 469v1M589 178v2M589 261v5M589 381v5M589 467v2M590 180v2M590 266v4M590 376v5M590 465v2M591 182v2M591 270v5M591 372v4M591 463v2M592 184v2M592 275v1M592 277v2M592 367v3M592 371v1M592 461v2M593 186v2M593 279v5M593 363v4M593 459v2M594 188v1M594 284v9M594 353v10M594 457v2M595 189v2M595 293v10M595 344v9M595 455v2M596 191v3M596 303v18M596 325v19M596 453v2M597 194v2M597 321v4M597 451v2M598 196v3M598 448v3M599 199v2M599 446v2M600 201v2M600 443v3M601 203v2M601 441v2M602 205v2M602 440v1M603 207v2M603 438v2M604 209v2M604 436v2M605 211v3M605 433v3M606 214v4M606 429v4M607 218v2M607 427v2M608 221v2M608 424v2M609 223v2M609 422v2M610 225v3M610 419v3M611 228v2M611 417v2M612 230v4M612 413v4M613 234v4M613 409v4M614 238v2M614 407v2M615 240v4M615 403v4M616 244v5M616 398v5M617 249v4M617 394v4M618 253v2M618 392v2M619 255v4M619 388v4M620 259v5M620 383v5M621 264v5M621 377v6M622 269v2M622 272v3M622 372v3M622 376v1M623 275v5M623 367v5M624 280v10M624 357v10M625 290v10M625 346v11M626 300v21M626 325v21M627 321v4"/>
</g>
<g fill="none" stroke="#1f8a1f" stroke-width="1.15" transform="translate(0 0.65)">
<path transform="translate(0 .5)" d="M28 323h600"/>
<path transform="translate(.5 0)" d=""/>
</g>
<g fill="none" stroke="#ff0000" stroke-width="1.15">
<path transform="translate(0 .5)" d="M324 23h6M320 24h4M330 24h4M318 25h2M334 25h2M314 26h4M336 26h4M310 27h4M340 27h4M308 28h2M344 28h2M305 29h3M346 29h3M303 30h2M349 30h2M300 31h3M351 31h3M298 32h2M354 32h2M295 33h3M356 33h3M293 34h2M359 34h2M290 35h3M361 35h3M288 36h2M364 36h2M285 37h3M366 37h3M283 38h2M369 38h2M280 39h3M371 39h2M278 40h2M373 40h2M375 41h2M372 292h2M281 293h2M365 299h2M288 300h2M292 303h2M360 303h2M352 310h2M301 311h2M348 313h2M305 314h3M346 314h2M308 315h2M344 315h2M341 317h2M312 318h2M339 318h2M314 319h3M337 319h2M316 320h3M335 320h3M318 321h2M334 321h2M320 322h2M332 322h2M320 324h2M332 324h2M318 325h2M334 325h2M316 326h3M335 326h3M314 327h3M337 327h2M312 328h2M339 328h2M341 329h2M308 331h2M344 331h2M305 332h3M346 332h2M348 333h2M301 335h2M352 336h2M292 343h2M360 343h2M288 346h2M365 347h2M281 353h2M372 354h2M375 605h2M278 606h2M373 606h2M280 607h3M371 607h2M283 608h2M369 608h2M285 609h3M366 609h3M288 610h2M364 610h2M290 611h3M361 611h3M293 612h2M359 612h2M295 613h3M356 613h3M298 614h2M354 614h2M300 615h3M351 615h3M303 616h2M349 616h2M305 617h3M346 617h3M308 618h2M344 618h2M310 619h4M340 619h4M314 620h4M336 620h4M318 621h2M334 621h2M320 622h4M330 622h4M324 623h6"/>
<path transform="translate(.5 0)" d="M226 146v26M226 475v25M227 134v12M227 172v12M227 462v13M227 500v12M228 130v4M228 184v7M228 456v6M228 512v5M229 126v4M229 191v6M229 449v7M229 517v4M230 121v5M230 197v6M230 443v6M230 521v4M231 117v4M231 203v5M231 439v4M231 525v5M232 114v3M232 208v3M232 436v3M232 530v3M233 109v5M233 211v3M233 433v3M233 533v4M234 105v4M234 214v2M234 431v2M234 537v5M235 101v4M235 216v3M235 428v3M235 542v4M236 98v3M236 219v3M236 425v3M236 546v3M237 95v3M237 222v3M237 422v3M237 549v3M238 92v3M238 225v3M238 419v3M238 552v2M239 90v2M239 228v3M239 416v3M239 554v2M240 88v2M240 231v3M240 413v3M240 556v2M241 87v1M241 234v2M241 411v2M241 558v2M242 85v2M242 236v2M242 409v2M242 560v2M243 83v2M243 238v2M243 407v2M243 562v2M244 82v1M244 240v2M244 405v2M244 564v1M245 80v2M245 242v3M245 402v3M245 565v2M246 78v2M246 245v2M246 400v2M246 567v2M247 77v1M247 247v2M247 398v2M247 569v1M248 75v2M248 249v2M248 396v2M248 570v1M249 74v1M249 251v1M249 395v1M249 571v2M250 73v1M250 252v2M250 393v2M250 573v1M251 71v2M251 254v2M251 391v2M251 574v2M252 69v2M252 256v1M252 390v1M252 576v2M253 68v1M253 257v2M253 388v2M253 578v1M254 67v1M254 259v2M254 386v2M254 579v1M255 65v2M255 261v1M255 385v1M255 580v2M256 64v1M256 262v1M256 384v1M256 582v1M257 63v1M257 263v2M257 382v2M257 583v1M258 62v1M258 265v1M258 381v1M258 584v1M259 61v1M259 266v1M259 380v1M259 585v1M260 60v1M260 267v2M260 378v2M260 586v1M261 59v1M261 269v2M261 376v2M261 587v1M262 57v2M262 271v1M262 375v1M262 588v2M263 55v2M263 272v1M263 373v2M263 590v2M264 54v1M264 273v2M264 372v1M264 592v1M265 53v1M265 275v1M265 371v1M265 593v1M266 52v1M266 276v1M266 369v2M266 594v1M267 51v1M267 277v2M267 368v1M267 595v1M268 50v1M268 279v1M268 367v1M268 596v1M269 49v1M269 280v1M269 366v1M269 597v1M270 48v1M270 281v1M270 365v1M270 598v1M271 47v1M271 282v1M271 364v1M271 599v1M272 46v1M272 283v1M272 363v1M272 600v1M273 45v1M273 284v1M273 361v2M273 601v1M274 44v1M274 285v2M274 360v1M274 602v1M275 43v1M275 287v1M275 359v1M275 603v1M276 42v1M276 288v1M276 358v1M276 604v1M277 41v1M277 289v1M277 357v1M277 605v1M278 290v1M278 356v1M279 291v1M279 355v1M280 292v1M280 354v1M283 294v1M283 352v1M284 295v1M284 350v2M285 296v2M285 349v1M286 298v1M286 348v1M287 299v1M287 347v1M290 301v1M290 345v1M291 302v1M291 344v1M294 304v1M294 342v1M295 305v1M295 341v1M296 306v1M296 340v1M297 307v1M297 339v1M298 308v1M298 338v1M299 309v1M299 337v1M300 310v1M300 336v1M303 312v1M303 334v1M304 313v1M304 333v1M310 316v1M310 330v1M311 317v1M311 329v1M321 323v1M327 3v11M332 323v1M343 316v1M343 330v1M350 312v1M350 334v1M351 311v1M351 335v1M354 309v1M354 337v1M355 308v1M355 338v1M356 307v1M356 339v1M357 306v1M357 340v1M358 305v1M358 341v1M359 304v1M359 342v1M362 302v1M362 344v1M363 301v1M363 345v1M364 300v1M364 346v1M367 298v1M367 348v1M368 296v2M368 349v1M369 295v1M369 350v2M370 294v1M370 352v1M371 293v1M371 353v1M374 291v1M374 355v1M375 290v1M375 356v1M376 289v1M376 357v1M377 42v1M377 288v1M377 358v1M377 604v1M378 43v1M378 287v1M378 359v1M378 603v1M379 44v1M379 285v2M379 360v1M379 602v1M380 45v1M380 284v1M380 361v2M380 601v1M381 46v1M381 283v1M381 363v1M381 600v1M382 47v1M382 282v1M382 364v1M382 599v1M383 48v1M383 281v1M383 365v1M383 598v1M384 49v1M384 280v1M384 366v1M384 597v1M385 50v1M385 279v1M385 367v1M385 596v1M386 51v1M386 277v2M386 368v1M386 595v1M387 52v1M387 276v1M387 369v2M387 594v1M388 53v1M388 275v1M388 371v1M388 593v1M389 54v1M389 273v2M389 372v1M389 592v1M390 55v2M390 272v1M390 373v2M390 590v2M391 57v2M391 271v1M391 375v1M391 588v2M392 59v1M392 269v2M392 376v2M392 587v1M393 60v1M393 267v2M393 378v2M393 586v1M394 61v1M394 266v1M394 380v1M394 585v1M395 62v1M395 265v1M395 381v1M395 584v1M396 63v1M396 263v2M396 382v2M396 583v1M397 64v1M397 262v1M397 384v1M397 582v1M398 65v2M398 261v1M398 385v1M398 580v2M399 67v1M399 259v2M399 386v2M399 579v1M400 68v1M400 257v2M400 388v2M400 578v1M401 69v2M401 256v1M401 390v1M401 576v2M402 71v2M402 254v2M402 391v2M402 574v2M403 73v1M403 252v2M403 393v2M403 573v1M404 74v1M404 251v1M404 395v1M404 571v2M405 75v2M405 249v2M405 396v2M405 570v1M406 77v1M406 247v2M406 398v2M406 569v1M407 78v2M407 245v2M407 400v2M407 567v2M408 80v2M408 242v3M408 402v3M408 565v2M409 82v1M409 240v2M409 405v2M409 564v1M410 83v2M410 238v2M410 407v2M410 562v2M411 85v2M411 236v2M411 409v2M411 560v2M412 87v1M412 234v2M412 411v2M412 558v2M413 88v2M413 231v3M413 413v3M413 556v2M414 90v2M414 228v3M414 416v3M414 554v2M415 92v3M415 225v3M415 419v3M415 552v2M416 95v3M416 222v3M416 422v3M416 549v3M417 98v3M417 219v3M417 425v3M417 546v3M418 101v4M418 216v3M418 428v3M418 542v4M419 105v4M419 214v2M419 431v2M419 537v5M420 109v5M420 211v3M420 433v3M420 533v4M421 114v3M421 208v3M421 436v3M421 530v3M422 117v4M422 203v5M422 439v4M422 525v5M423 121v5M423 197v6M423 443v6M423 521v4M424 126v4M424 191v6M424 449v7M424 517v4M425 130v4M425 184v7M425 456v6M425 512v5M426 134v12M426 172v12M426 462v13M426 500v12M427 146v26M427 475v25"/>
</g>
<g fill="none" stroke="#ff0000" stroke-width="1.15" transform="translate(0 0.65)">
<path transform="translate(0 .5)" d="M17 323h11"/>
<path transform="translate(.5 0)" d=""/>
</g>
<g fill="#0000ff" stroke="#0000ff" stroke-width=".06">
<use href="#s1" x="332" y="13"/>
<use href="#sd" x="338" y="13"/>
<use href="#s0" x="344" y="13"/>
<use href="#s0" x="350" y="13"/>
<use href="#s0" x="356" y="13"/>
<use href="#s0" x="381" y="30"/>
<use href="#sd" x="387" y="30"/>
<use href="#s9" x="393" y="30"/>
<use href="#s5" x="399" y="30"/>
<use href="#s5" x="405" y="30"/>
<use href="#s0" x="417" y="77"/>
<use href="#sd" x="423" y="77"/>
<use href="#s8" x="429" y="77"/>
<use href="#s3" x="435" y="77"/>
<use href="#s7" x="441" y="77"/>
<use href="#s0" x="432" y="138"/>
<use href="#sd" x="438" y="138"/>
<use href="#s6" x="444" y="138"/>
<use href="#s7" x="450" y="138"/>
<use href="#s0" x="456" y="138"/>
<use href="#s0" x="428" y="198"/>
<use href="#sd" x="434" y="198"/>
<use href="#s4" x="440" y="198"/>
<use href="#s8" x="446" y="198"/>
<use href="#s5" x="452" y="198"/>
<use href="#s0" x="446" y="216"/>
<use href="#sd" x="452" y="216"/>
<use href="#s2" x="458" y="216"/>
<use href="#s9" x="464" y="216"/>
<use href="#s5" x="470" y="216"/>
<use href="#s0" x="461" y="238"/>
<use href="#sd" x="467" y="238"/>
<use href="#s1" x="473" y="238"/>
<use href="#s2" x="479" y="238"/>
<use href="#s3" x="485" y="238"/>
<use href="#s0" x="472" y="261"/>
<use href="#sd" x="478" y="261"/>
<use href="#s0" x="484" y="261"/>
<use href="#s4" x="490" y="261"/>
<use href="#s0" x="496" y="261"/>
<use href="#s0" x="479" y="286"/>
<use href="#sd" x="485" y="286"/>
<use href="#s0" x="491" y="286"/>
<use href="#s1" x="497" y="286"/>
<use href="#s8" x="503" y="286"/>
<use href="#s0" x="482" y="313"/>
<use href="#sd" x="488" y="313"/>
<use href="#s0" x="494" y="313"/>
<use href="#s1" x="500" y="313"/>
<use href="#s8" x="506" y="313"/>
<use href="#s0" x="479" y="339"/>
<use href="#sd" x="485" y="339"/>
<use href="#s0" x="491" y="339"/>
<use href="#s1" x="497" y="339"/>
<use href="#s8" x="503" y="339"/>
<use href="#s0" x="472" y="364"/>
<use href="#sd" x="478" y="364"/>
<use href="#s0" x="484" y="364"/>
<use href="#s4" x="490" y="364"/>
<use href="#s0" x="496" y="364"/>
<use href="#s0" x="461" y="388"/>
<use href="#sd" x="467" y="388"/>
<use href="#s1" x="473" y="388"/>
<use href="#s2" x="479" y="388"/>
<use href="#s3" x="485" y="388"/>
<use href="#s0" x="446" y="409"/>
<use href="#sd" x="452" y="409"/>
<use href="#s2" x="458" y="409"/>
<use href="#s9" x="464" y="409"/>
<use href="#s5" x="470" y="409"/>
<use href="#s0" x="428" y="427"/>
<use href="#sd" x="434" y="427"/>
<use href="#s4" x="440" y="427"/>
<use href="#s8" x="446" y="427"/>
<use href="#s5" x="452" y="427"/>
<use href="#s0" x="432" y="487"/>
<use href="#sd" x="438" y="487"/>
<use href="#s6" x="444" y="487"/>
<use href="#s7" x="450" y="487"/>
<use href="#s0" x="456" y="487"/>
<use href="#s0" x="417" y="548"/>
<use href="#sd" x="423" y="548"/>
<use href="#s8" x="429" y="548"/>
<use href="#s3" x="435" y="548"/>
<use href="#s7" x="441" y="548"/>
<use href="#s0" x="381" y="595"/>
<use href="#sd" x="387" y="595"/>
<use href="#s9" x="393" y="595"/>
<use href="#s5" x="399" y="595"/>
<use href="#s5" x="405" y="595"/>
<use href="#s1" x="332" y="613"/>
<use href="#sd" x="338" y="613"/>
<use href="#s0" x="344" y="613"/>
<use href="#s0" x="350" y="613"/>
<use href="#s0" x="356" y="613"/>
<use href="#s0" x="282" y="595"/>
<use href="#sd" x="288" y="595"/>
<use href="#s9" x="294" y="595"/>
<use href="#s5" x="300" y="595"/>
<use href="#s5" x="306" y="595"/>
<use href="#s0" x="246" y="548"/>
<use href="#sd" x="252" y="548"/>
<use href="#s8" x="258" y="548"/>
<use href="#s3" x="264" y="548"/>
<use href="#s7" x="270" y="548"/>
<use href="#s0" x="231" y="487"/>
<use href="#sd" x="237" y="487"/>
<use href="#s6" x="243" y="487"/>
<use href="#s7" x="249" y="487"/>
<use href="#s0" x="255" y="487"/>
<use href="#s0" x="235" y="427"/>
<use href="#sd" x="241" y="427"/>
<use href="#s4" x="247" y="427"/>
<use href="#s8" x="253" y="427"/>
<use href="#s5" x="259" y="427"/>
<use href="#s0" x="217" y="409"/>
<use href="#sd" x="223" y="409"/>
<use href="#s2" x="229" y="409"/>
<use href="#s9" x="235" y="409"/>
<use href="#s5" x="241" y="409"/>
<use href="#s0" x="202" y="388"/>
<use href="#sd" x="208" y="388"/>
<use href="#s1" x="214" y="388"/>
<use href="#s2" x="220" y="388"/>
<use href="#s3" x="226" y="388"/>
<use href="#s0" x="191" y="364"/>
<use href="#sd" x="197" y="364"/>
<use href="#s0" x="203" y="364"/>
<use href="#s4" x="209" y="364"/>
<use href="#s0" x="215" y="364"/>
<use href="#s0" x="184" y="339"/>
<use href="#sd" x="190" y="339"/>
<use href="#s0" x="196" y="339"/>
<use href="#s1" x="202" y="339"/>
<use href="#s8" x="208" y="339"/>
<use href="#s0" x="182" y="313"/>
<use href="#sd" x="188" y="313"/>
<use href="#s0" x="194" y="313"/>
<use href="#s1" x="200" y="313"/>
<use href="#s8" x="206" y="313"/>
<use href="#s0" x="184" y="286"/>
<use href="#sd" x="190" y="286"/>
<use href="#s0" x="196" y="286"/>
<use href="#s1" x="202" y="286"/>
<use href="#s8" x="208" y="286"/>
<use href="#s0" x="191" y="261"/>
<use href="#sd" x="197" y="261"/>
<use href="#s0" x="203" y="261"/>
<use href="#s4" x="209" y="261"/>
<use href="#s0" x="215" y="261"/>
<use href="#s0" x="202" y="238"/>
<use href="#sd" x="208" y="238"/>
<use href="#s1" x="214" y="238"/>
<use href="#s2" x="220" y="238"/>
<use href="#s3" x="226" y="238"/>
<use href="#s0" x="217" y="216"/>
<use href="#sd" x="223" y="216"/>
<use href="#s2" x="229" y="216"/>
<use href="#s9" x="235" y="216"/>
<use href="#s5" x="241" y="216"/>
<use href="#s0" x="235" y="198"/>
<use href="#sd" x="241" y="198"/>
<use href="#s4" x="247" y="198"/>
<use href="#s8" x="253" y="198"/>
<use href="#s5" x="259" y="198"/>
<use href="#s0" x="231" y="138"/>
<use href="#sd" x="237" y="138"/>
<use href="#s6" x="243" y="138"/>
<use href="#s7" x="249" y="138"/>
<use href="#s0" x="255" y="138"/>
<use href="#s0" x="246" y="77"/>
<use href="#sd" x="252" y="77"/>
<use href="#s8" x="258" y="77"/>
<use href="#s3" x="264" y="77"/>
<use href="#s7" x="270" y="77"/>
<use href="#s0" x="282" y="30"/>
<use href="#sd" x="288" y="30"/>
<use href="#s9" x="294" y="30"/>
<use href="#s5" x="300" y="30"/>
<use href="#s5" x="306" y="30"/>
</g>
<g fill="#1f8a1f" stroke="#1f8a1f" stroke-width=".06">
<use href="#t0" x="319" y="13"/>
<use href="#t1" x="373" y="18"/>
<use href="#t0" x="378" y="18"/>
<use href="#t2" x="425" y="32"/>
<use href="#t0" x="430" y="32"/>
<use href="#t3" x="474" y="55"/>
<use href="#t0" x="479" y="55"/>
<use href="#t4" x="518" y="86"/>
<use href="#t0" x="523" y="86"/>
<use href="#t5" x="557" y="124"/>
<use href="#t0" x="562" y="124"/>
<use href="#t6" x="588" y="168"/>
<use href="#t0" x="593" y="168"/>
<use href="#t7" x="611" y="217"/>
<use href="#t0" x="616" y="217"/>
<use href="#t8" x="625" y="270"/>
<use href="#t0" x="630" y="270"/>
<use href="#t9" x="630" y="323.65"/>
<use href="#t0" x="635" y="323.65"/>
<use href="#t1" x="625" y="376"/>
<use href="#t0" x="630" y="376"/>
<use href="#t0" x="635" y="376"/>
<use href="#t1" x="611" y="429"/>
<use href="#t1" x="616" y="429"/>
<use href="#t0" x="621" y="429"/>
<use href="#t1" x="588" y="477"/>
<use href="#t2" x="593" y="477"/>
<use href="#t0" x="598" y="477"/>
<use href="#t1" x="557" y="522"/>
<use href="#t3" x="562" y="522"/>
<use href="#t0" x="567" y="522"/>
<use href="#t1" x="518" y="560"/>
<use href="#t4" x="523" y="560"/>
<use href="#t0" x="528" y="560"/>
<use href="#t1" x="474" y="591"/>
<use href="#t5" x="479" y="591"/>
<use href="#t0" x="484" y="591"/>
<use href="#t1" x="425" y="614"/>
<use href="#t6" x="430" y="614"/>
<use href="#t0" x="435" y="614"/>
<use href="#t1" x="373" y="628"/>
<use href="#t7" x="378" y="628"/>
<use href="#t0" x="383" y="628"/>
<use href="#t1" x="319" y="633"/>
<use href="#t8" x="324" y="633"/>
<use href="#t0" x="329" y="633"/>
<use href="#t1" x="265" y="628"/>
<use href="#t9" x="270" y="628"/>
<use href="#t0" x="275" y="628"/>
<use href="#t2" x="213" y="614"/>
<use href="#t0" x="218" y="614"/>
<use href="#t0" x="223" y="614"/>
<use href="#t2" x="164" y="591"/>
<use href="#t1" x="169" y="591"/>
<use href="#t0" x="174" y="591"/>
<use href="#t2" x="120" y="560"/>
<use href="#t2" x="125" y="560"/>
<use href="#t0" x="130" y="560"/>
<use href="#t2" x="81" y="522"/>
<use href="#t3" x="86" y="522"/>
<use href="#t0" x="91" y="522"/>
<use href="#t2" x="50" y="478"/>
<use href="#t4" x="55" y="478"/>
<use href="#t0" x="60" y="478"/>
<use href="#t2" x="27" y="429"/>
<use href="#t5" x="32" y="429"/>
<use href="#t0" x="37" y="429"/>
<use href="#t2" x="13" y="376"/>
<use href="#t6" x="18" y="376"/>
<use href="#t0" x="23" y="376"/>
<use href="#t2" x="8" y="323.65"/>
<use href="#t7" x="13" y="323.65"/>
<use href="#t0" x="18" y="323.65"/>
<use href="#t2" x="13" y="270"/>
<use href="#t8" x="18" y="270"/>
<use href="#t0" x="23" y="270"/>
<use href="#t2" x="27" y="217"/>
<use href="#t9" x="32" y="217"/>
<use href="#t0" x="37" y="217"/>
<use href="#t3" x="50" y="168"/>
<use href="#t0" x="55" y="168"/>
<use href="#t0" x="60" y="168"/>
<use href="#t3" x="81" y="124"/>
<use href="#t1" x="86" y="124"/>
<use href="#t0" x="91" y="124"/>
<use href="#t3" x="120" y="86"/>
<use href="#t2" x="125" y="86"/>
<use href="#t0" x="130" y="86"/>
<use href="#t3" x="164" y="55"/>
<use href="#t3" x="169" y="55"/>
<use href="#t0" x="174" y="55"/>
<use href="#t3" x="213" y="32"/>
<use href="#t4" x="218" y="32"/>
<use href="#t0" x="223" y="32"/>
<use href="#t3" x="265" y="18"/>
<use href="#t5" x="270" y="18"/>
<use href="#t0" x="275" y="18"/>
</g>
</svg>
</body></html>
